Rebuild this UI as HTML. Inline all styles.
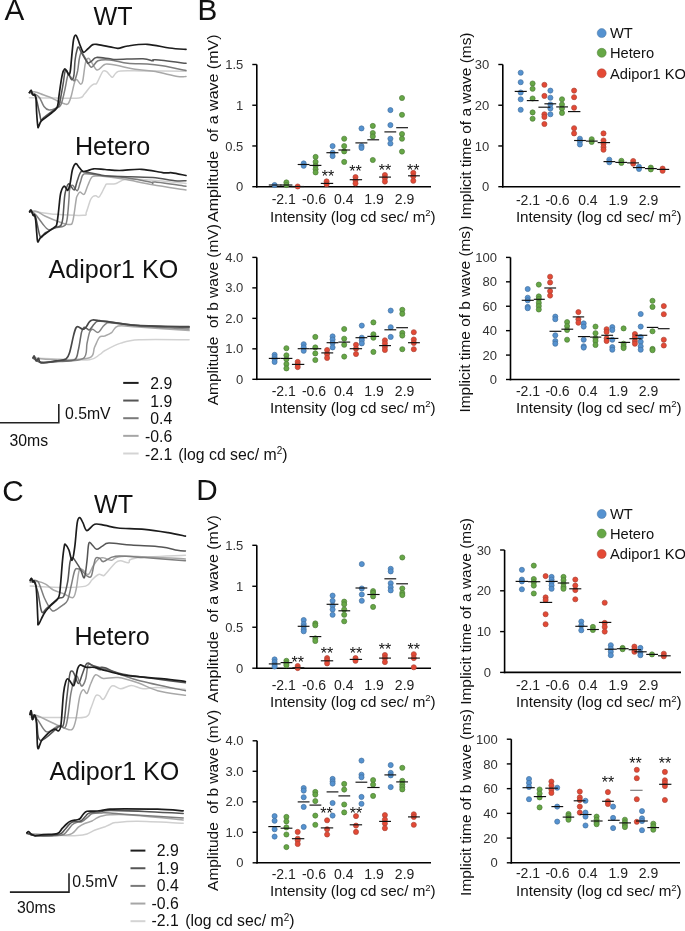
<!DOCTYPE html>
<html><head><meta charset="utf-8"><style>
html,body{margin:0;padding:0;background:#fff;}
body{width:685px;height:931px;overflow:hidden;position:relative;}
svg{position:absolute;left:0;top:0;will-change:transform;}
text{font-family:'Liberation Sans',sans-serif;}
</style></head><body>
<svg width="685" height="931" viewBox="0 0 685 931">
<rect width="685" height="931" fill="#fff"/>
<rect x="198.8" y="0" width="1.6" height="19.5" fill="#f1f1f1"/>
<line x1="256.8" y1="64.5" x2="256.8" y2="187.5" stroke="#000" stroke-width="1.6"/>
<line x1="256.0" y1="186.7" x2="431" y2="186.7" stroke="#000" stroke-width="1.6"/>
<line x1="252.3" y1="64.5" x2="256.8" y2="64.5" stroke="#000" stroke-width="1.4"/>
<text x="243.3" y="69.1" font-size="13" text-anchor="end" fill="#333" >1.5</text>
<line x1="252.3" y1="105.23333333333332" x2="256.8" y2="105.23333333333332" stroke="#000" stroke-width="1.4"/>
<text x="243.3" y="109.83" font-size="13" text-anchor="end" fill="#333" >1</text>
<line x1="252.3" y1="145.96666666666664" x2="256.8" y2="145.96666666666664" stroke="#000" stroke-width="1.4"/>
<text x="243.3" y="150.57" font-size="13" text-anchor="end" fill="#333" >0.5</text>
<line x1="252.3" y1="186.7" x2="256.8" y2="186.7" stroke="#000" stroke-width="1.4"/>
<text x="243.3" y="191.3" font-size="13" text-anchor="end" fill="#333" >0</text>
<text x="283.7" y="204.3" font-size="14" text-anchor="middle" fill="#222" >-2.1</text>
<text x="314.0" y="204.3" font-size="14" text-anchor="middle" fill="#222" >-0.6</text>
<text x="343.7" y="204.3" font-size="14" text-anchor="middle" fill="#222" >0.4</text>
<text x="374.1" y="204.3" font-size="14" text-anchor="middle" fill="#222" >1.9</text>
<text x="404.6" y="204.3" font-size="14" text-anchor="middle" fill="#222" >2.9</text>
<text x="270.0" y="221.9" font-size="15.2" text-anchor="start" fill="#111" >Intensity (log cd sec/ m<tspan font-size="9.5" dy="-5.5">2</tspan><tspan dy="5.5">)</tspan></text>
<text x="0" y="0" font-size="15.3" fill="#111" textLength="187.5" lengthAdjust="spacingAndGlyphs" transform="translate(218.3,222.0) rotate(-90)" xml:space="preserve">Amplitude  of a wave (mV)</text>
<g transform="translate(0.4,0.4)">
<circle cx="274.2" cy="184.6" r="2.55" fill="#5592d0" stroke="#46739f" stroke-width="0.7"/>
<circle cx="286.0" cy="182.0" r="2.55" fill="#66a746" stroke="#4f7d3a" stroke-width="0.7"/>
<circle cx="286.0" cy="184.6" r="2.55" fill="#66a746" stroke="#4f7d3a" stroke-width="0.7"/>
<circle cx="297.3" cy="186.1" r="2.55" fill="#e44935" stroke="#a9463a" stroke-width="0.7"/>
<circle cx="303.3" cy="163.0" r="2.55" fill="#5592d0" stroke="#46739f" stroke-width="0.7"/>
<circle cx="303.3" cy="165.4" r="2.55" fill="#5592d0" stroke="#46739f" stroke-width="0.7"/>
<circle cx="315.2" cy="156.5" r="2.55" fill="#66a746" stroke="#4f7d3a" stroke-width="0.7"/>
<circle cx="315.2" cy="161.5" r="2.55" fill="#66a746" stroke="#4f7d3a" stroke-width="0.7"/>
<circle cx="315.2" cy="165.4" r="2.55" fill="#66a746" stroke="#4f7d3a" stroke-width="0.7"/>
<circle cx="315.2" cy="168.8" r="2.55" fill="#66a746" stroke="#4f7d3a" stroke-width="0.7"/>
<circle cx="315.2" cy="172.0" r="2.55" fill="#66a746" stroke="#4f7d3a" stroke-width="0.7"/>
<circle cx="326.2" cy="181.0" r="2.55" fill="#e44935" stroke="#a9463a" stroke-width="0.7"/>
<circle cx="326.2" cy="183.8" r="2.55" fill="#e44935" stroke="#a9463a" stroke-width="0.7"/>
<circle cx="332.2" cy="145.7" r="2.55" fill="#5592d0" stroke="#46739f" stroke-width="0.7"/>
<circle cx="332.2" cy="152.3" r="2.55" fill="#5592d0" stroke="#46739f" stroke-width="0.7"/>
<circle cx="332.2" cy="155.7" r="2.55" fill="#5592d0" stroke="#46739f" stroke-width="0.7"/>
<circle cx="343.8" cy="138.3" r="2.55" fill="#66a746" stroke="#4f7d3a" stroke-width="0.7"/>
<circle cx="343.8" cy="145.7" r="2.55" fill="#66a746" stroke="#4f7d3a" stroke-width="0.7"/>
<circle cx="343.8" cy="151.0" r="2.55" fill="#66a746" stroke="#4f7d3a" stroke-width="0.7"/>
<circle cx="343.8" cy="161.5" r="2.55" fill="#66a746" stroke="#4f7d3a" stroke-width="0.7"/>
<circle cx="355.1" cy="176.7" r="2.55" fill="#e44935" stroke="#a9463a" stroke-width="0.7"/>
<circle cx="355.1" cy="179.8" r="2.55" fill="#e44935" stroke="#a9463a" stroke-width="0.7"/>
<circle cx="355.1" cy="183.0" r="2.55" fill="#e44935" stroke="#a9463a" stroke-width="0.7"/>
<circle cx="361.1" cy="128.0" r="2.55" fill="#5592d0" stroke="#46739f" stroke-width="0.7"/>
<circle cx="361.1" cy="145.7" r="2.55" fill="#5592d0" stroke="#46739f" stroke-width="0.7"/>
<circle cx="361.1" cy="147.5" r="2.55" fill="#5592d0" stroke="#46739f" stroke-width="0.7"/>
<circle cx="372.4" cy="125.5" r="2.55" fill="#66a746" stroke="#4f7d3a" stroke-width="0.7"/>
<circle cx="372.4" cy="132.6" r="2.55" fill="#66a746" stroke="#4f7d3a" stroke-width="0.7"/>
<circle cx="372.4" cy="136.0" r="2.55" fill="#66a746" stroke="#4f7d3a" stroke-width="0.7"/>
<circle cx="372.4" cy="159.6" r="2.55" fill="#66a746" stroke="#4f7d3a" stroke-width="0.7"/>
<circle cx="384.5" cy="174.6" r="2.55" fill="#e44935" stroke="#a9463a" stroke-width="0.7"/>
<circle cx="384.5" cy="177.7" r="2.55" fill="#e44935" stroke="#a9463a" stroke-width="0.7"/>
<circle cx="384.5" cy="181.2" r="2.55" fill="#e44935" stroke="#a9463a" stroke-width="0.7"/>
<circle cx="390.0" cy="109.7" r="2.55" fill="#5592d0" stroke="#46739f" stroke-width="0.7"/>
<circle cx="390.0" cy="124.7" r="2.55" fill="#5592d0" stroke="#46739f" stroke-width="0.7"/>
<circle cx="390.0" cy="138.3" r="2.55" fill="#5592d0" stroke="#46739f" stroke-width="0.7"/>
<circle cx="390.0" cy="143.1" r="2.55" fill="#5592d0" stroke="#46739f" stroke-width="0.7"/>
<circle cx="401.6" cy="97.6" r="2.55" fill="#66a746" stroke="#4f7d3a" stroke-width="0.7"/>
<circle cx="401.6" cy="114.4" r="2.55" fill="#66a746" stroke="#4f7d3a" stroke-width="0.7"/>
<circle cx="401.6" cy="133.6" r="2.55" fill="#66a746" stroke="#4f7d3a" stroke-width="0.7"/>
<circle cx="401.6" cy="138.3" r="2.55" fill="#66a746" stroke="#4f7d3a" stroke-width="0.7"/>
<circle cx="401.6" cy="151.2" r="2.55" fill="#66a746" stroke="#4f7d3a" stroke-width="0.7"/>
<circle cx="412.9" cy="172.5" r="2.55" fill="#e44935" stroke="#a9463a" stroke-width="0.7"/>
<circle cx="412.9" cy="175.9" r="2.55" fill="#e44935" stroke="#a9463a" stroke-width="0.7"/>
<circle cx="412.9" cy="180.4" r="2.55" fill="#e44935" stroke="#a9463a" stroke-width="0.7"/>
<line x1="268.4" y1="184.6" x2="281" y2="184.6" stroke="#111" stroke-width="1.15"/>
<line x1="280" y1="184.6" x2="292" y2="184.6" stroke="#111" stroke-width="1.15"/>
<line x1="291" y1="186.1" x2="303.9" y2="186.1" stroke="#111" stroke-width="1.15"/>
<line x1="297.3" y1="164.1" x2="309.1" y2="164.1" stroke="#111" stroke-width="1.15"/>
<line x1="309" y1="165.0" x2="321" y2="165.0" stroke="#111" stroke-width="1.15"/>
<line x1="320.4" y1="183.0" x2="332.8" y2="183.0" stroke="#111" stroke-width="1.15"/>
<line x1="326" y1="152.3" x2="338" y2="152.3" stroke="#111" stroke-width="1.15"/>
<line x1="338" y1="149.6" x2="349.8" y2="149.6" stroke="#111" stroke-width="1.15"/>
<line x1="349.3" y1="179.3" x2="361.7" y2="179.3" stroke="#111" stroke-width="1.15"/>
<line x1="355" y1="142.5" x2="367" y2="142.5" stroke="#111" stroke-width="1.15"/>
<line x1="366.9" y1="139.4" x2="378.7" y2="139.4" stroke="#111" stroke-width="1.15"/>
<line x1="378.7" y1="176.7" x2="390.6" y2="176.7" stroke="#111" stroke-width="1.15"/>
<line x1="384" y1="131.5" x2="395.8" y2="131.5" stroke="#111" stroke-width="1.15"/>
<line x1="395.8" y1="127.3" x2="407.6" y2="127.3" stroke="#111" stroke-width="1.15"/>
<line x1="407.6" y1="175.4" x2="419.5" y2="175.4" stroke="#111" stroke-width="1.15"/>
<text x="327.5" y="181.2" font-size="16" text-anchor="middle" fill="#111" >**</text>
<text x="355.1" y="177.0" font-size="16" text-anchor="middle" fill="#111" >**</text>
<text x="384.5" y="175.3" font-size="16" text-anchor="middle" fill="#111" >**</text>
<text x="412.9" y="175.3" font-size="16" text-anchor="middle" fill="#111" >**</text>
</g>
<line x1="502.8" y1="64.5" x2="502.8" y2="187.5" stroke="#000" stroke-width="1.6"/>
<line x1="502.0" y1="186.7" x2="680.3" y2="186.7" stroke="#000" stroke-width="1.6"/>
<line x1="498.3" y1="64.5" x2="502.8" y2="64.5" stroke="#000" stroke-width="1.4"/>
<text x="489.3" y="69.1" font-size="13" text-anchor="end" fill="#333" >30</text>
<line x1="498.3" y1="105.23333333333332" x2="502.8" y2="105.23333333333332" stroke="#000" stroke-width="1.4"/>
<text x="489.3" y="109.83" font-size="13" text-anchor="end" fill="#333" >20</text>
<line x1="498.3" y1="145.96666666666664" x2="502.8" y2="145.96666666666664" stroke="#000" stroke-width="1.4"/>
<text x="489.3" y="150.57" font-size="13" text-anchor="end" fill="#333" >10</text>
<line x1="498.3" y1="186.7" x2="502.8" y2="186.7" stroke="#000" stroke-width="1.4"/>
<text x="489.3" y="191.3" font-size="13" text-anchor="end" fill="#333" >0</text>
<text x="528.0" y="204.5" font-size="14" text-anchor="middle" fill="#222" >-2.1</text>
<text x="557.5" y="204.5" font-size="14" text-anchor="middle" fill="#222" >-0.6</text>
<text x="587.9" y="204.5" font-size="14" text-anchor="middle" fill="#222" >0.4</text>
<text x="618.3" y="204.5" font-size="14" text-anchor="middle" fill="#222" >1.9</text>
<text x="648.5" y="204.5" font-size="14" text-anchor="middle" fill="#222" >2.9</text>
<text x="515.9" y="221.8" font-size="15.2" text-anchor="start" fill="#111" >Intensity (log cd sec/ m<tspan font-size="9.5" dy="-5.5">2</tspan><tspan dy="5.5">)</tspan></text>
<text x="0" y="0" font-size="15.3" fill="#111" textLength="187" lengthAdjust="spacingAndGlyphs" transform="translate(470.5,219.5) rotate(-90)" xml:space="preserve">Implicit time of a wave (ms)</text>
<g transform="translate(0.4,0.4)">
<circle cx="520.3" cy="72.3" r="2.55" fill="#5592d0" stroke="#46739f" stroke-width="0.7"/>
<circle cx="520.3" cy="81.8" r="2.55" fill="#5592d0" stroke="#46739f" stroke-width="0.7"/>
<circle cx="520.3" cy="92.1" r="2.55" fill="#5592d0" stroke="#46739f" stroke-width="0.7"/>
<circle cx="520.3" cy="98.9" r="2.55" fill="#5592d0" stroke="#46739f" stroke-width="0.7"/>
<circle cx="520.3" cy="109.4" r="2.55" fill="#5592d0" stroke="#46739f" stroke-width="0.7"/>
<circle cx="532.2" cy="83.1" r="2.55" fill="#66a746" stroke="#4f7d3a" stroke-width="0.7"/>
<circle cx="532.2" cy="88.4" r="2.55" fill="#66a746" stroke="#4f7d3a" stroke-width="0.7"/>
<circle cx="532.2" cy="98.1" r="2.55" fill="#66a746" stroke="#4f7d3a" stroke-width="0.7"/>
<circle cx="532.2" cy="112.0" r="2.55" fill="#66a746" stroke="#4f7d3a" stroke-width="0.7"/>
<circle cx="532.2" cy="118.3" r="2.55" fill="#66a746" stroke="#4f7d3a" stroke-width="0.7"/>
<circle cx="544.0" cy="84.4" r="2.55" fill="#e44935" stroke="#a9463a" stroke-width="0.7"/>
<circle cx="544.0" cy="95.5" r="2.55" fill="#e44935" stroke="#a9463a" stroke-width="0.7"/>
<circle cx="544.0" cy="113.9" r="2.55" fill="#e44935" stroke="#a9463a" stroke-width="0.7"/>
<circle cx="544.0" cy="116.5" r="2.55" fill="#e44935" stroke="#a9463a" stroke-width="0.7"/>
<circle cx="544.0" cy="123.6" r="2.55" fill="#e44935" stroke="#a9463a" stroke-width="0.7"/>
<circle cx="550.0" cy="90.2" r="2.55" fill="#5592d0" stroke="#46739f" stroke-width="0.7"/>
<circle cx="550.0" cy="97.3" r="2.55" fill="#5592d0" stroke="#46739f" stroke-width="0.7"/>
<circle cx="550.0" cy="104.1" r="2.55" fill="#5592d0" stroke="#46739f" stroke-width="0.7"/>
<circle cx="550.0" cy="108.1" r="2.55" fill="#5592d0" stroke="#46739f" stroke-width="0.7"/>
<circle cx="550.0" cy="113.9" r="2.55" fill="#5592d0" stroke="#46739f" stroke-width="0.7"/>
<circle cx="561.6" cy="98.9" r="2.55" fill="#66a746" stroke="#4f7d3a" stroke-width="0.7"/>
<circle cx="561.6" cy="104.1" r="2.55" fill="#66a746" stroke="#4f7d3a" stroke-width="0.7"/>
<circle cx="561.6" cy="108.1" r="2.55" fill="#66a746" stroke="#4f7d3a" stroke-width="0.7"/>
<circle cx="561.6" cy="112.5" r="2.55" fill="#66a746" stroke="#4f7d3a" stroke-width="0.7"/>
<circle cx="573.7" cy="90.2" r="2.55" fill="#e44935" stroke="#a9463a" stroke-width="0.7"/>
<circle cx="573.7" cy="96.8" r="2.55" fill="#e44935" stroke="#a9463a" stroke-width="0.7"/>
<circle cx="573.7" cy="107.3" r="2.55" fill="#e44935" stroke="#a9463a" stroke-width="0.7"/>
<circle cx="573.7" cy="127.8" r="2.55" fill="#e44935" stroke="#a9463a" stroke-width="0.7"/>
<circle cx="573.7" cy="133.0" r="2.55" fill="#e44935" stroke="#a9463a" stroke-width="0.7"/>
<circle cx="579.5" cy="138.3" r="2.55" fill="#5592d0" stroke="#46739f" stroke-width="0.7"/>
<circle cx="579.5" cy="140.9" r="2.55" fill="#5592d0" stroke="#46739f" stroke-width="0.7"/>
<circle cx="579.5" cy="144.1" r="2.55" fill="#5592d0" stroke="#46739f" stroke-width="0.7"/>
<circle cx="591.3" cy="138.8" r="2.55" fill="#66a746" stroke="#4f7d3a" stroke-width="0.7"/>
<circle cx="591.3" cy="141.5" r="2.55" fill="#66a746" stroke="#4f7d3a" stroke-width="0.7"/>
<circle cx="603.1" cy="133.0" r="2.55" fill="#e44935" stroke="#a9463a" stroke-width="0.7"/>
<circle cx="603.1" cy="140.1" r="2.55" fill="#e44935" stroke="#a9463a" stroke-width="0.7"/>
<circle cx="603.1" cy="143.6" r="2.55" fill="#e44935" stroke="#a9463a" stroke-width="0.7"/>
<circle cx="603.1" cy="146.7" r="2.55" fill="#e44935" stroke="#a9463a" stroke-width="0.7"/>
<circle cx="603.1" cy="149.3" r="2.55" fill="#e44935" stroke="#a9463a" stroke-width="0.7"/>
<circle cx="608.9" cy="159.3" r="2.55" fill="#5592d0" stroke="#46739f" stroke-width="0.7"/>
<circle cx="608.9" cy="161.9" r="2.55" fill="#5592d0" stroke="#46739f" stroke-width="0.7"/>
<circle cx="621.0" cy="160.4" r="2.55" fill="#66a746" stroke="#4f7d3a" stroke-width="0.7"/>
<circle cx="621.0" cy="162.5" r="2.55" fill="#66a746" stroke="#4f7d3a" stroke-width="0.7"/>
<circle cx="632.8" cy="160.6" r="2.55" fill="#e44935" stroke="#a9463a" stroke-width="0.7"/>
<circle cx="632.8" cy="163.3" r="2.55" fill="#e44935" stroke="#a9463a" stroke-width="0.7"/>
<circle cx="638.6" cy="166.4" r="2.55" fill="#5592d0" stroke="#46739f" stroke-width="0.7"/>
<circle cx="638.6" cy="168.5" r="2.55" fill="#5592d0" stroke="#46739f" stroke-width="0.7"/>
<circle cx="650.4" cy="167.2" r="2.55" fill="#66a746" stroke="#4f7d3a" stroke-width="0.7"/>
<circle cx="650.4" cy="169.0" r="2.55" fill="#66a746" stroke="#4f7d3a" stroke-width="0.7"/>
<circle cx="662.2" cy="168.2" r="2.55" fill="#e44935" stroke="#a9463a" stroke-width="0.7"/>
<circle cx="662.2" cy="170.4" r="2.55" fill="#e44935" stroke="#a9463a" stroke-width="0.7"/>
<line x1="514.3" y1="91.0" x2="526.4" y2="91.0" stroke="#111" stroke-width="1.15"/>
<line x1="526.4" y1="100.2" x2="538.2" y2="100.2" stroke="#111" stroke-width="1.15"/>
<line x1="538" y1="106.8" x2="550" y2="106.8" stroke="#111" stroke-width="1.15"/>
<line x1="544" y1="103.4" x2="555.8" y2="103.4" stroke="#111" stroke-width="1.15"/>
<line x1="555.8" y1="106.5" x2="567.6" y2="106.5" stroke="#111" stroke-width="1.15"/>
<line x1="567.6" y1="111.2" x2="580" y2="111.2" stroke="#111" stroke-width="1.15"/>
<line x1="573.7" y1="140.1" x2="585.5" y2="140.1" stroke="#111" stroke-width="1.15"/>
<line x1="585.5" y1="140.7" x2="597.3" y2="140.7" stroke="#111" stroke-width="1.15"/>
<line x1="597.3" y1="142.2" x2="609.7" y2="142.2" stroke="#111" stroke-width="1.15"/>
<line x1="603.1" y1="161.2" x2="614.9" y2="161.2" stroke="#111" stroke-width="1.15"/>
<line x1="614.9" y1="162.0" x2="626.7" y2="162.0" stroke="#111" stroke-width="1.15"/>
<line x1="626.7" y1="162.5" x2="638.6" y2="162.5" stroke="#111" stroke-width="1.15"/>
<line x1="632.5" y1="167.2" x2="644.6" y2="167.2" stroke="#111" stroke-width="1.15"/>
<line x1="644.6" y1="168.2" x2="656.4" y2="168.2" stroke="#111" stroke-width="1.15"/>
<line x1="656.4" y1="169.0" x2="668.8" y2="169.0" stroke="#111" stroke-width="1.15"/>
</g>
<circle cx="601.7" cy="33.1" r="4.5" fill="#5592d0" stroke="#46739f" stroke-width="0.5"/>
<text x="610.0" y="38.4" font-size="14.7" text-anchor="start" fill="#111" >WT</text>
<circle cx="601.7" cy="52.8" r="4.5" fill="#66a746" stroke="#4f7d3a" stroke-width="0.5"/>
<text x="610.0" y="58.099999999999994" font-size="14.7" text-anchor="start" fill="#111" >Hetero</text>
<circle cx="601.7" cy="73.3" r="4.5" fill="#e44935" stroke="#a9463a" stroke-width="0.5"/>
<text x="610.0" y="78.6" font-size="14.7" text-anchor="start" fill="#111" >Adipor1 KO</text>
<line x1="256.8" y1="257.4" x2="256.8" y2="380.1" stroke="#000" stroke-width="1.6"/>
<line x1="256.0" y1="379.3" x2="431" y2="379.3" stroke="#000" stroke-width="1.6"/>
<line x1="252.3" y1="257.4" x2="256.8" y2="257.4" stroke="#000" stroke-width="1.4"/>
<text x="243.3" y="262.0" font-size="13" text-anchor="end" fill="#333" >4.0</text>
<line x1="252.3" y1="287.875" x2="256.8" y2="287.875" stroke="#000" stroke-width="1.4"/>
<text x="243.3" y="292.48" font-size="13" text-anchor="end" fill="#333" >3.0</text>
<line x1="252.3" y1="318.35" x2="256.8" y2="318.35" stroke="#000" stroke-width="1.4"/>
<text x="243.3" y="322.95" font-size="13" text-anchor="end" fill="#333" >2.0</text>
<line x1="252.3" y1="348.825" x2="256.8" y2="348.825" stroke="#000" stroke-width="1.4"/>
<text x="243.3" y="353.43" font-size="13" text-anchor="end" fill="#333" >1.0</text>
<line x1="252.3" y1="379.3" x2="256.8" y2="379.3" stroke="#000" stroke-width="1.4"/>
<text x="243.3" y="383.9" font-size="13" text-anchor="end" fill="#333" >0</text>
<text x="283.7" y="396.1" font-size="14" text-anchor="middle" fill="#222" >-2.1</text>
<text x="314.0" y="396.1" font-size="14" text-anchor="middle" fill="#222" >-0.6</text>
<text x="343.7" y="396.1" font-size="14" text-anchor="middle" fill="#222" >0.4</text>
<text x="374.1" y="396.1" font-size="14" text-anchor="middle" fill="#222" >1.9</text>
<text x="404.6" y="396.1" font-size="14" text-anchor="middle" fill="#222" >2.9</text>
<text x="270.0" y="412.8" font-size="15.2" text-anchor="start" fill="#111" >Intensity (log cd sec/ m<tspan font-size="9.5" dy="-5.5">2</tspan><tspan dy="5.5">)</tspan></text>
<text x="0" y="0" font-size="15.3" fill="#111" textLength="181" lengthAdjust="spacingAndGlyphs" transform="translate(218.3,405.2) rotate(-90)" xml:space="preserve">Amplitude  of b wave (mV)</text>
<g transform="translate(0.4,0.4)">
<circle cx="274.2" cy="354.4" r="2.55" fill="#5592d0" stroke="#46739f" stroke-width="0.7"/>
<circle cx="274.2" cy="356.7" r="2.55" fill="#5592d0" stroke="#46739f" stroke-width="0.7"/>
<circle cx="274.2" cy="358.8" r="2.55" fill="#5592d0" stroke="#46739f" stroke-width="0.7"/>
<circle cx="274.2" cy="361.5" r="2.55" fill="#5592d0" stroke="#46739f" stroke-width="0.7"/>
<circle cx="286.0" cy="347.8" r="2.55" fill="#66a746" stroke="#4f7d3a" stroke-width="0.7"/>
<circle cx="286.0" cy="354.9" r="2.55" fill="#66a746" stroke="#4f7d3a" stroke-width="0.7"/>
<circle cx="286.0" cy="358.8" r="2.55" fill="#66a746" stroke="#4f7d3a" stroke-width="0.7"/>
<circle cx="286.0" cy="363.6" r="2.55" fill="#66a746" stroke="#4f7d3a" stroke-width="0.7"/>
<circle cx="286.0" cy="368.0" r="2.55" fill="#66a746" stroke="#4f7d3a" stroke-width="0.7"/>
<circle cx="297.3" cy="361.5" r="2.55" fill="#e44935" stroke="#a9463a" stroke-width="0.7"/>
<circle cx="297.3" cy="364.0" r="2.55" fill="#e44935" stroke="#a9463a" stroke-width="0.7"/>
<circle cx="297.3" cy="366.7" r="2.55" fill="#e44935" stroke="#a9463a" stroke-width="0.7"/>
<circle cx="303.3" cy="343.8" r="2.55" fill="#5592d0" stroke="#46739f" stroke-width="0.7"/>
<circle cx="303.3" cy="347.0" r="2.55" fill="#5592d0" stroke="#46739f" stroke-width="0.7"/>
<circle cx="303.3" cy="350.4" r="2.55" fill="#5592d0" stroke="#46739f" stroke-width="0.7"/>
<circle cx="314.9" cy="336.5" r="2.55" fill="#66a746" stroke="#4f7d3a" stroke-width="0.7"/>
<circle cx="314.9" cy="347.0" r="2.55" fill="#66a746" stroke="#4f7d3a" stroke-width="0.7"/>
<circle cx="314.9" cy="353.0" r="2.55" fill="#66a746" stroke="#4f7d3a" stroke-width="0.7"/>
<circle cx="314.9" cy="359.6" r="2.55" fill="#66a746" stroke="#4f7d3a" stroke-width="0.7"/>
<circle cx="326.7" cy="349.6" r="2.55" fill="#e44935" stroke="#a9463a" stroke-width="0.7"/>
<circle cx="326.7" cy="353.6" r="2.55" fill="#e44935" stroke="#a9463a" stroke-width="0.7"/>
<circle cx="326.7" cy="357.5" r="2.55" fill="#e44935" stroke="#a9463a" stroke-width="0.7"/>
<circle cx="332.2" cy="336.0" r="2.55" fill="#5592d0" stroke="#46739f" stroke-width="0.7"/>
<circle cx="332.2" cy="339.1" r="2.55" fill="#5592d0" stroke="#46739f" stroke-width="0.7"/>
<circle cx="332.2" cy="342.5" r="2.55" fill="#5592d0" stroke="#46739f" stroke-width="0.7"/>
<circle cx="332.2" cy="347.0" r="2.55" fill="#5592d0" stroke="#46739f" stroke-width="0.7"/>
<circle cx="343.8" cy="328.6" r="2.55" fill="#66a746" stroke="#4f7d3a" stroke-width="0.7"/>
<circle cx="343.8" cy="338.3" r="2.55" fill="#66a746" stroke="#4f7d3a" stroke-width="0.7"/>
<circle cx="343.8" cy="344.4" r="2.55" fill="#66a746" stroke="#4f7d3a" stroke-width="0.7"/>
<circle cx="343.8" cy="356.2" r="2.55" fill="#66a746" stroke="#4f7d3a" stroke-width="0.7"/>
<circle cx="355.6" cy="344.4" r="2.55" fill="#e44935" stroke="#a9463a" stroke-width="0.7"/>
<circle cx="355.6" cy="348.3" r="2.55" fill="#e44935" stroke="#a9463a" stroke-width="0.7"/>
<circle cx="355.6" cy="353.6" r="2.55" fill="#e44935" stroke="#a9463a" stroke-width="0.7"/>
<circle cx="361.4" cy="325.2" r="2.55" fill="#5592d0" stroke="#46739f" stroke-width="0.7"/>
<circle cx="361.4" cy="337.3" r="2.55" fill="#5592d0" stroke="#46739f" stroke-width="0.7"/>
<circle cx="361.4" cy="339.9" r="2.55" fill="#5592d0" stroke="#46739f" stroke-width="0.7"/>
<circle cx="361.4" cy="343.0" r="2.55" fill="#5592d0" stroke="#46739f" stroke-width="0.7"/>
<circle cx="373.0" cy="322.0" r="2.55" fill="#66a746" stroke="#4f7d3a" stroke-width="0.7"/>
<circle cx="373.0" cy="333.9" r="2.55" fill="#66a746" stroke="#4f7d3a" stroke-width="0.7"/>
<circle cx="373.0" cy="337.3" r="2.55" fill="#66a746" stroke="#4f7d3a" stroke-width="0.7"/>
<circle cx="373.0" cy="351.5" r="2.55" fill="#66a746" stroke="#4f7d3a" stroke-width="0.7"/>
<circle cx="384.5" cy="339.9" r="2.55" fill="#e44935" stroke="#a9463a" stroke-width="0.7"/>
<circle cx="384.5" cy="343.0" r="2.55" fill="#e44935" stroke="#a9463a" stroke-width="0.7"/>
<circle cx="384.5" cy="346.5" r="2.55" fill="#e44935" stroke="#a9463a" stroke-width="0.7"/>
<circle cx="384.5" cy="349.6" r="2.55" fill="#e44935" stroke="#a9463a" stroke-width="0.7"/>
<circle cx="390.3" cy="310.2" r="2.55" fill="#5592d0" stroke="#46739f" stroke-width="0.7"/>
<circle cx="390.3" cy="326.8" r="2.55" fill="#5592d0" stroke="#46739f" stroke-width="0.7"/>
<circle cx="390.3" cy="336.5" r="2.55" fill="#5592d0" stroke="#46739f" stroke-width="0.7"/>
<circle cx="401.9" cy="309.4" r="2.55" fill="#66a746" stroke="#4f7d3a" stroke-width="0.7"/>
<circle cx="401.9" cy="313.4" r="2.55" fill="#66a746" stroke="#4f7d3a" stroke-width="0.7"/>
<circle cx="401.9" cy="332.5" r="2.55" fill="#66a746" stroke="#4f7d3a" stroke-width="0.7"/>
<circle cx="401.9" cy="335.2" r="2.55" fill="#66a746" stroke="#4f7d3a" stroke-width="0.7"/>
<circle cx="401.9" cy="348.8" r="2.55" fill="#66a746" stroke="#4f7d3a" stroke-width="0.7"/>
<circle cx="413.4" cy="331.8" r="2.55" fill="#e44935" stroke="#a9463a" stroke-width="0.7"/>
<circle cx="413.4" cy="339.1" r="2.55" fill="#e44935" stroke="#a9463a" stroke-width="0.7"/>
<circle cx="413.4" cy="342.5" r="2.55" fill="#e44935" stroke="#a9463a" stroke-width="0.7"/>
<circle cx="413.4" cy="348.8" r="2.55" fill="#e44935" stroke="#a9463a" stroke-width="0.7"/>
<line x1="268.4" y1="358.0" x2="280.2" y2="358.0" stroke="#111" stroke-width="1.15"/>
<line x1="280.2" y1="358.0" x2="292" y2="358.0" stroke="#111" stroke-width="1.15"/>
<line x1="291.5" y1="364.0" x2="303.9" y2="364.0" stroke="#111" stroke-width="1.15"/>
<line x1="297.3" y1="348.3" x2="309.1" y2="348.3" stroke="#111" stroke-width="1.15"/>
<line x1="309.1" y1="348.3" x2="320.9" y2="348.3" stroke="#111" stroke-width="1.15"/>
<line x1="320.9" y1="352.5" x2="332.8" y2="352.5" stroke="#111" stroke-width="1.15"/>
<line x1="326.2" y1="342.3" x2="338" y2="342.3" stroke="#111" stroke-width="1.15"/>
<line x1="338" y1="341.7" x2="349.8" y2="341.7" stroke="#111" stroke-width="1.15"/>
<line x1="349.3" y1="348.3" x2="361.7" y2="348.3" stroke="#111" stroke-width="1.15"/>
<line x1="355.1" y1="337.3" x2="366.9" y2="337.3" stroke="#111" stroke-width="1.15"/>
<line x1="366.9" y1="336.0" x2="378.7" y2="336.0" stroke="#111" stroke-width="1.15"/>
<line x1="378.7" y1="345.2" x2="390.6" y2="345.2" stroke="#111" stroke-width="1.15"/>
<line x1="384" y1="329.4" x2="395.8" y2="329.4" stroke="#111" stroke-width="1.15"/>
<line x1="395.8" y1="327.3" x2="407.6" y2="327.3" stroke="#111" stroke-width="1.15"/>
<line x1="407.6" y1="342.3" x2="419.5" y2="342.3" stroke="#111" stroke-width="1.15"/>
</g>
<line x1="510.5" y1="257.4" x2="510.5" y2="380.3" stroke="#000" stroke-width="1.6"/>
<line x1="509.7" y1="379.5" x2="679.7" y2="379.5" stroke="#000" stroke-width="1.6"/>
<line x1="506.0" y1="257.4" x2="510.5" y2="257.4" stroke="#000" stroke-width="1.4"/>
<text x="497.0" y="262.0" font-size="13" text-anchor="end" fill="#333" >100</text>
<line x1="506.0" y1="281.82" x2="510.5" y2="281.82" stroke="#000" stroke-width="1.4"/>
<text x="497.0" y="286.42" font-size="13" text-anchor="end" fill="#333" >80</text>
<line x1="506.0" y1="306.24" x2="510.5" y2="306.24" stroke="#000" stroke-width="1.4"/>
<text x="497.0" y="310.84" font-size="13" text-anchor="end" fill="#333" >60</text>
<line x1="506.0" y1="330.65999999999997" x2="510.5" y2="330.65999999999997" stroke="#000" stroke-width="1.4"/>
<text x="497.0" y="335.26" font-size="13" text-anchor="end" fill="#333" >40</text>
<line x1="506.0" y1="355.08" x2="510.5" y2="355.08" stroke="#000" stroke-width="1.4"/>
<text x="497.0" y="359.68" font-size="13" text-anchor="end" fill="#333" >20</text>
<line x1="506.0" y1="379.5" x2="510.5" y2="379.5" stroke="#000" stroke-width="1.4"/>
<text x="497.0" y="384.1" font-size="13" text-anchor="end" fill="#333" >0</text>
<text x="528.0" y="395.8" font-size="14" text-anchor="middle" fill="#222" >-2.1</text>
<text x="557.5" y="395.8" font-size="14" text-anchor="middle" fill="#222" >-0.6</text>
<text x="587.9" y="395.8" font-size="14" text-anchor="middle" fill="#222" >0.4</text>
<text x="618.3" y="395.8" font-size="14" text-anchor="middle" fill="#222" >1.9</text>
<text x="648.5" y="395.8" font-size="14" text-anchor="middle" fill="#222" >2.9</text>
<text x="516.0" y="412.8" font-size="15.2" text-anchor="start" fill="#111" >Intensity (log cd sec/ m<tspan font-size="9.5" dy="-5.5">2</tspan><tspan dy="5.5">)</tspan></text>
<text x="0" y="0" font-size="15.3" fill="#111" textLength="186.7" lengthAdjust="spacingAndGlyphs" transform="translate(470.0,412.5) rotate(-90)" xml:space="preserve">Implicit time of b wave (ms)</text>
<g transform="translate(0.4,0.4)">
<circle cx="527.3" cy="288.6" r="2.55" fill="#5592d0" stroke="#46739f" stroke-width="0.7"/>
<circle cx="527.3" cy="297.3" r="2.55" fill="#5592d0" stroke="#46739f" stroke-width="0.7"/>
<circle cx="527.3" cy="299.9" r="2.55" fill="#5592d0" stroke="#46739f" stroke-width="0.7"/>
<circle cx="527.3" cy="306.5" r="2.55" fill="#5592d0" stroke="#46739f" stroke-width="0.7"/>
<circle cx="527.3" cy="307.8" r="2.55" fill="#5592d0" stroke="#46739f" stroke-width="0.7"/>
<circle cx="538.4" cy="284.2" r="2.55" fill="#66a746" stroke="#4f7d3a" stroke-width="0.7"/>
<circle cx="538.4" cy="296.0" r="2.55" fill="#66a746" stroke="#4f7d3a" stroke-width="0.7"/>
<circle cx="538.4" cy="298.6" r="2.55" fill="#66a746" stroke="#4f7d3a" stroke-width="0.7"/>
<circle cx="538.4" cy="302.5" r="2.55" fill="#66a746" stroke="#4f7d3a" stroke-width="0.7"/>
<circle cx="538.4" cy="305.7" r="2.55" fill="#66a746" stroke="#4f7d3a" stroke-width="0.7"/>
<circle cx="538.4" cy="309.1" r="2.55" fill="#66a746" stroke="#4f7d3a" stroke-width="0.7"/>
<circle cx="549.7" cy="276.3" r="2.55" fill="#e44935" stroke="#a9463a" stroke-width="0.7"/>
<circle cx="549.7" cy="282.1" r="2.55" fill="#e44935" stroke="#a9463a" stroke-width="0.7"/>
<circle cx="549.7" cy="290.7" r="2.55" fill="#e44935" stroke="#a9463a" stroke-width="0.7"/>
<circle cx="549.7" cy="295.2" r="2.55" fill="#e44935" stroke="#a9463a" stroke-width="0.7"/>
<circle cx="554.9" cy="316.2" r="2.55" fill="#5592d0" stroke="#46739f" stroke-width="0.7"/>
<circle cx="554.9" cy="318.8" r="2.55" fill="#5592d0" stroke="#46739f" stroke-width="0.7"/>
<circle cx="554.9" cy="334.9" r="2.55" fill="#5592d0" stroke="#46739f" stroke-width="0.7"/>
<circle cx="554.9" cy="340.6" r="2.55" fill="#5592d0" stroke="#46739f" stroke-width="0.7"/>
<circle cx="554.9" cy="343.3" r="2.55" fill="#5592d0" stroke="#46739f" stroke-width="0.7"/>
<circle cx="566.7" cy="321.7" r="2.55" fill="#66a746" stroke="#4f7d3a" stroke-width="0.7"/>
<circle cx="566.7" cy="325.7" r="2.55" fill="#66a746" stroke="#4f7d3a" stroke-width="0.7"/>
<circle cx="566.7" cy="329.6" r="2.55" fill="#66a746" stroke="#4f7d3a" stroke-width="0.7"/>
<circle cx="566.7" cy="339.3" r="2.55" fill="#66a746" stroke="#4f7d3a" stroke-width="0.7"/>
<circle cx="578.0" cy="311.7" r="2.55" fill="#e44935" stroke="#a9463a" stroke-width="0.7"/>
<circle cx="578.0" cy="318.8" r="2.55" fill="#e44935" stroke="#a9463a" stroke-width="0.7"/>
<circle cx="578.0" cy="322.3" r="2.55" fill="#e44935" stroke="#a9463a" stroke-width="0.7"/>
<circle cx="583.3" cy="323.0" r="2.55" fill="#5592d0" stroke="#46739f" stroke-width="0.7"/>
<circle cx="583.3" cy="326.2" r="2.55" fill="#5592d0" stroke="#46739f" stroke-width="0.7"/>
<circle cx="583.3" cy="339.3" r="2.55" fill="#5592d0" stroke="#46739f" stroke-width="0.7"/>
<circle cx="583.3" cy="345.9" r="2.55" fill="#5592d0" stroke="#46739f" stroke-width="0.7"/>
<circle cx="583.3" cy="347.2" r="2.55" fill="#5592d0" stroke="#46739f" stroke-width="0.7"/>
<circle cx="595.1" cy="326.2" r="2.55" fill="#66a746" stroke="#4f7d3a" stroke-width="0.7"/>
<circle cx="595.1" cy="332.8" r="2.55" fill="#66a746" stroke="#4f7d3a" stroke-width="0.7"/>
<circle cx="595.1" cy="338.0" r="2.55" fill="#66a746" stroke="#4f7d3a" stroke-width="0.7"/>
<circle cx="595.1" cy="340.6" r="2.55" fill="#66a746" stroke="#4f7d3a" stroke-width="0.7"/>
<circle cx="595.1" cy="344.6" r="2.55" fill="#66a746" stroke="#4f7d3a" stroke-width="0.7"/>
<circle cx="606.2" cy="328.8" r="2.55" fill="#e44935" stroke="#a9463a" stroke-width="0.7"/>
<circle cx="606.2" cy="331.5" r="2.55" fill="#e44935" stroke="#a9463a" stroke-width="0.7"/>
<circle cx="606.2" cy="338.0" r="2.55" fill="#e44935" stroke="#a9463a" stroke-width="0.7"/>
<circle cx="606.2" cy="340.6" r="2.55" fill="#e44935" stroke="#a9463a" stroke-width="0.7"/>
<circle cx="611.9" cy="326.7" r="2.55" fill="#5592d0" stroke="#46739f" stroke-width="0.7"/>
<circle cx="611.9" cy="329.6" r="2.55" fill="#5592d0" stroke="#46739f" stroke-width="0.7"/>
<circle cx="611.9" cy="339.3" r="2.55" fill="#5592d0" stroke="#46739f" stroke-width="0.7"/>
<circle cx="611.9" cy="346.7" r="2.55" fill="#5592d0" stroke="#46739f" stroke-width="0.7"/>
<circle cx="611.9" cy="349.3" r="2.55" fill="#5592d0" stroke="#46739f" stroke-width="0.7"/>
<circle cx="623.2" cy="328.0" r="2.55" fill="#66a746" stroke="#4f7d3a" stroke-width="0.7"/>
<circle cx="623.2" cy="343.3" r="2.55" fill="#66a746" stroke="#4f7d3a" stroke-width="0.7"/>
<circle cx="623.2" cy="345.9" r="2.55" fill="#66a746" stroke="#4f7d3a" stroke-width="0.7"/>
<circle cx="623.2" cy="347.7" r="2.55" fill="#66a746" stroke="#4f7d3a" stroke-width="0.7"/>
<circle cx="634.5" cy="333.6" r="2.55" fill="#e44935" stroke="#a9463a" stroke-width="0.7"/>
<circle cx="634.5" cy="336.7" r="2.55" fill="#e44935" stroke="#a9463a" stroke-width="0.7"/>
<circle cx="634.5" cy="340.6" r="2.55" fill="#e44935" stroke="#a9463a" stroke-width="0.7"/>
<circle cx="634.5" cy="343.3" r="2.55" fill="#e44935" stroke="#a9463a" stroke-width="0.7"/>
<circle cx="640.3" cy="313.6" r="2.55" fill="#5592d0" stroke="#46739f" stroke-width="0.7"/>
<circle cx="640.3" cy="326.2" r="2.55" fill="#5592d0" stroke="#46739f" stroke-width="0.7"/>
<circle cx="640.3" cy="336.7" r="2.55" fill="#5592d0" stroke="#46739f" stroke-width="0.7"/>
<circle cx="640.3" cy="341.4" r="2.55" fill="#5592d0" stroke="#46739f" stroke-width="0.7"/>
<circle cx="640.3" cy="345.9" r="2.55" fill="#5592d0" stroke="#46739f" stroke-width="0.7"/>
<circle cx="640.3" cy="349.3" r="2.55" fill="#5592d0" stroke="#46739f" stroke-width="0.7"/>
<circle cx="652.1" cy="300.4" r="2.55" fill="#66a746" stroke="#4f7d3a" stroke-width="0.7"/>
<circle cx="652.1" cy="306.5" r="2.55" fill="#66a746" stroke="#4f7d3a" stroke-width="0.7"/>
<circle cx="652.1" cy="330.9" r="2.55" fill="#66a746" stroke="#4f7d3a" stroke-width="0.7"/>
<circle cx="652.1" cy="348.5" r="2.55" fill="#66a746" stroke="#4f7d3a" stroke-width="0.7"/>
<circle cx="652.1" cy="349.8" r="2.55" fill="#66a746" stroke="#4f7d3a" stroke-width="0.7"/>
<circle cx="663.4" cy="305.7" r="2.55" fill="#e44935" stroke="#a9463a" stroke-width="0.7"/>
<circle cx="663.4" cy="313.8" r="2.55" fill="#e44935" stroke="#a9463a" stroke-width="0.7"/>
<circle cx="663.4" cy="339.3" r="2.55" fill="#e44935" stroke="#a9463a" stroke-width="0.7"/>
<circle cx="663.4" cy="345.1" r="2.55" fill="#e44935" stroke="#a9463a" stroke-width="0.7"/>
<line x1="521.3" y1="299.9" x2="533.4" y2="299.9" stroke="#111" stroke-width="1.15"/>
<line x1="533.4" y1="298.9" x2="544.4" y2="298.9" stroke="#111" stroke-width="1.15"/>
<line x1="543.9" y1="287.6" x2="555.7" y2="287.6" stroke="#111" stroke-width="1.15"/>
<line x1="549.1" y1="330.9" x2="561" y2="330.9" stroke="#111" stroke-width="1.15"/>
<line x1="561" y1="328.8" x2="572.8" y2="328.8" stroke="#111" stroke-width="1.15"/>
<line x1="572.3" y1="316.5" x2="583.8" y2="316.5" stroke="#111" stroke-width="1.15"/>
<line x1="577.5" y1="336.2" x2="589.6" y2="336.2" stroke="#111" stroke-width="1.15"/>
<line x1="589.6" y1="336.7" x2="600.9" y2="336.7" stroke="#111" stroke-width="1.15"/>
<line x1="600.9" y1="334.9" x2="612.7" y2="334.9" stroke="#111" stroke-width="1.15"/>
<line x1="606.2" y1="338.0" x2="618" y2="338.0" stroke="#111" stroke-width="1.15"/>
<line x1="618" y1="342.0" x2="629.8" y2="342.0" stroke="#111" stroke-width="1.15"/>
<line x1="629" y1="338.3" x2="641.1" y2="338.3" stroke="#111" stroke-width="1.15"/>
<line x1="635" y1="334.9" x2="646.9" y2="334.9" stroke="#111" stroke-width="1.15"/>
<line x1="646.4" y1="327.0" x2="657.9" y2="327.0" stroke="#111" stroke-width="1.15"/>
<line x1="657.4" y1="328.3" x2="669.2" y2="328.3" stroke="#111" stroke-width="1.15"/>
</g>
<line x1="256.8" y1="545.3" x2="256.8" y2="669.0" stroke="#000" stroke-width="1.6"/>
<line x1="256.0" y1="668.2" x2="431" y2="668.2" stroke="#000" stroke-width="1.6"/>
<line x1="252.3" y1="545.3" x2="256.8" y2="545.3" stroke="#000" stroke-width="1.4"/>
<text x="243.3" y="549.9" font-size="13" text-anchor="end" fill="#333" >1.5</text>
<line x1="252.3" y1="586.2666666666667" x2="256.8" y2="586.2666666666667" stroke="#000" stroke-width="1.4"/>
<text x="243.3" y="590.87" font-size="13" text-anchor="end" fill="#333" >1</text>
<line x1="252.3" y1="627.2333333333333" x2="256.8" y2="627.2333333333333" stroke="#000" stroke-width="1.4"/>
<text x="243.3" y="631.83" font-size="13" text-anchor="end" fill="#333" >0.5</text>
<line x1="252.3" y1="668.2" x2="256.8" y2="668.2" stroke="#000" stroke-width="1.4"/>
<text x="243.3" y="672.8" font-size="13" text-anchor="end" fill="#333" >0</text>
<text x="283.7" y="690.3" font-size="14" text-anchor="middle" fill="#222" >-2.1</text>
<text x="314.0" y="690.3" font-size="14" text-anchor="middle" fill="#222" >-0.6</text>
<text x="343.7" y="690.3" font-size="14" text-anchor="middle" fill="#222" >0.4</text>
<text x="374.1" y="690.3" font-size="14" text-anchor="middle" fill="#222" >1.9</text>
<text x="404.6" y="690.3" font-size="14" text-anchor="middle" fill="#222" >2.9</text>
<text x="270.0" y="706.7" font-size="15.2" text-anchor="start" fill="#111" >Intensity (log cd sec/ m<tspan font-size="9.5" dy="-5.5">2</tspan><tspan dy="5.5">)</tspan></text>
<text x="0" y="0" font-size="15.3" fill="#111" textLength="187.3" lengthAdjust="spacingAndGlyphs" transform="translate(218.3,702.4) rotate(-90)" xml:space="preserve">Amplitude  of a wave (mV)</text>
<g transform="translate(0.4,0.4)">
<circle cx="274.2" cy="659.0" r="2.55" fill="#5592d0" stroke="#46739f" stroke-width="0.7"/>
<circle cx="274.2" cy="661.7" r="2.55" fill="#5592d0" stroke="#46739f" stroke-width="0.7"/>
<circle cx="274.2" cy="664.3" r="2.55" fill="#5592d0" stroke="#46739f" stroke-width="0.7"/>
<circle cx="274.2" cy="666.1" r="2.55" fill="#5592d0" stroke="#46739f" stroke-width="0.7"/>
<circle cx="286.0" cy="660.4" r="2.55" fill="#66a746" stroke="#4f7d3a" stroke-width="0.7"/>
<circle cx="286.0" cy="663.0" r="2.55" fill="#66a746" stroke="#4f7d3a" stroke-width="0.7"/>
<circle cx="286.0" cy="664.8" r="2.55" fill="#66a746" stroke="#4f7d3a" stroke-width="0.7"/>
<circle cx="297.3" cy="665.6" r="2.55" fill="#e44935" stroke="#a9463a" stroke-width="0.7"/>
<circle cx="297.3" cy="667.7" r="2.55" fill="#e44935" stroke="#a9463a" stroke-width="0.7"/>
<circle cx="303.3" cy="619.6" r="2.55" fill="#5592d0" stroke="#46739f" stroke-width="0.7"/>
<circle cx="303.3" cy="623.6" r="2.55" fill="#5592d0" stroke="#46739f" stroke-width="0.7"/>
<circle cx="303.3" cy="626.2" r="2.55" fill="#5592d0" stroke="#46739f" stroke-width="0.7"/>
<circle cx="303.3" cy="628.8" r="2.55" fill="#5592d0" stroke="#46739f" stroke-width="0.7"/>
<circle cx="303.3" cy="630.9" r="2.55" fill="#5592d0" stroke="#46739f" stroke-width="0.7"/>
<circle cx="314.9" cy="623.0" r="2.55" fill="#66a746" stroke="#4f7d3a" stroke-width="0.7"/>
<circle cx="314.9" cy="624.9" r="2.55" fill="#66a746" stroke="#4f7d3a" stroke-width="0.7"/>
<circle cx="314.9" cy="638.0" r="2.55" fill="#66a746" stroke="#4f7d3a" stroke-width="0.7"/>
<circle cx="314.9" cy="640.6" r="2.55" fill="#66a746" stroke="#4f7d3a" stroke-width="0.7"/>
<circle cx="326.7" cy="657.7" r="2.55" fill="#e44935" stroke="#a9463a" stroke-width="0.7"/>
<circle cx="326.7" cy="659.8" r="2.55" fill="#e44935" stroke="#a9463a" stroke-width="0.7"/>
<circle cx="326.7" cy="663.0" r="2.55" fill="#e44935" stroke="#a9463a" stroke-width="0.7"/>
<circle cx="332.2" cy="595.2" r="2.55" fill="#5592d0" stroke="#46739f" stroke-width="0.7"/>
<circle cx="332.2" cy="600.4" r="2.55" fill="#5592d0" stroke="#46739f" stroke-width="0.7"/>
<circle cx="332.2" cy="605.2" r="2.55" fill="#5592d0" stroke="#46739f" stroke-width="0.7"/>
<circle cx="332.2" cy="609.1" r="2.55" fill="#5592d0" stroke="#46739f" stroke-width="0.7"/>
<circle cx="332.2" cy="614.4" r="2.55" fill="#5592d0" stroke="#46739f" stroke-width="0.7"/>
<circle cx="343.8" cy="601.2" r="2.55" fill="#66a746" stroke="#4f7d3a" stroke-width="0.7"/>
<circle cx="343.8" cy="603.9" r="2.55" fill="#66a746" stroke="#4f7d3a" stroke-width="0.7"/>
<circle cx="343.8" cy="609.1" r="2.55" fill="#66a746" stroke="#4f7d3a" stroke-width="0.7"/>
<circle cx="343.8" cy="614.4" r="2.55" fill="#66a746" stroke="#4f7d3a" stroke-width="0.7"/>
<circle cx="343.8" cy="620.9" r="2.55" fill="#66a746" stroke="#4f7d3a" stroke-width="0.7"/>
<circle cx="355.1" cy="657.7" r="2.55" fill="#e44935" stroke="#a9463a" stroke-width="0.7"/>
<circle cx="355.1" cy="660.4" r="2.55" fill="#e44935" stroke="#a9463a" stroke-width="0.7"/>
<circle cx="361.4" cy="563.7" r="2.55" fill="#5592d0" stroke="#46739f" stroke-width="0.7"/>
<circle cx="361.4" cy="588.1" r="2.55" fill="#5592d0" stroke="#46739f" stroke-width="0.7"/>
<circle cx="361.4" cy="594.1" r="2.55" fill="#5592d0" stroke="#46739f" stroke-width="0.7"/>
<circle cx="361.4" cy="600.4" r="2.55" fill="#5592d0" stroke="#46739f" stroke-width="0.7"/>
<circle cx="372.7" cy="590.7" r="2.55" fill="#66a746" stroke="#4f7d3a" stroke-width="0.7"/>
<circle cx="372.7" cy="592.6" r="2.55" fill="#66a746" stroke="#4f7d3a" stroke-width="0.7"/>
<circle cx="372.7" cy="596.0" r="2.55" fill="#66a746" stroke="#4f7d3a" stroke-width="0.7"/>
<circle cx="372.7" cy="606.5" r="2.55" fill="#66a746" stroke="#4f7d3a" stroke-width="0.7"/>
<circle cx="384.5" cy="654.6" r="2.55" fill="#e44935" stroke="#a9463a" stroke-width="0.7"/>
<circle cx="384.5" cy="657.7" r="2.55" fill="#e44935" stroke="#a9463a" stroke-width="0.7"/>
<circle cx="384.5" cy="661.7" r="2.55" fill="#e44935" stroke="#a9463a" stroke-width="0.7"/>
<circle cx="390.3" cy="568.4" r="2.55" fill="#5592d0" stroke="#46739f" stroke-width="0.7"/>
<circle cx="390.3" cy="571.0" r="2.55" fill="#5592d0" stroke="#46739f" stroke-width="0.7"/>
<circle cx="390.3" cy="582.8" r="2.55" fill="#5592d0" stroke="#46739f" stroke-width="0.7"/>
<circle cx="390.3" cy="586.8" r="2.55" fill="#5592d0" stroke="#46739f" stroke-width="0.7"/>
<circle cx="390.3" cy="590.0" r="2.55" fill="#5592d0" stroke="#46739f" stroke-width="0.7"/>
<circle cx="401.9" cy="557.1" r="2.55" fill="#66a746" stroke="#4f7d3a" stroke-width="0.7"/>
<circle cx="401.9" cy="588.1" r="2.55" fill="#66a746" stroke="#4f7d3a" stroke-width="0.7"/>
<circle cx="401.9" cy="592.6" r="2.55" fill="#66a746" stroke="#4f7d3a" stroke-width="0.7"/>
<circle cx="401.9" cy="594.7" r="2.55" fill="#66a746" stroke="#4f7d3a" stroke-width="0.7"/>
<circle cx="413.4" cy="653.8" r="2.55" fill="#e44935" stroke="#a9463a" stroke-width="0.7"/>
<circle cx="413.4" cy="657.7" r="2.55" fill="#e44935" stroke="#a9463a" stroke-width="0.7"/>
<circle cx="413.4" cy="666.9" r="2.55" fill="#e44935" stroke="#a9463a" stroke-width="0.7"/>
<line x1="268.4" y1="663.5" x2="280.2" y2="663.5" stroke="#111" stroke-width="1.15"/>
<line x1="280.2" y1="662.2" x2="292" y2="662.2" stroke="#111" stroke-width="1.15"/>
<line x1="292" y1="667.4" x2="303.9" y2="667.4" stroke="#111" stroke-width="1.15"/>
<line x1="297.3" y1="625.9" x2="309.1" y2="625.9" stroke="#111" stroke-width="1.15"/>
<line x1="309.1" y1="636.2" x2="320.9" y2="636.2" stroke="#111" stroke-width="1.15"/>
<line x1="320.4" y1="660.4" x2="332.8" y2="660.4" stroke="#111" stroke-width="1.15"/>
<line x1="326.2" y1="603.9" x2="338" y2="603.9" stroke="#111" stroke-width="1.15"/>
<line x1="338" y1="610.4" x2="349.8" y2="610.4" stroke="#111" stroke-width="1.15"/>
<line x1="349.3" y1="659.0" x2="361.7" y2="659.0" stroke="#111" stroke-width="1.15"/>
<line x1="355.1" y1="587.6" x2="366.9" y2="587.6" stroke="#111" stroke-width="1.15"/>
<line x1="366.9" y1="594.1" x2="379.2" y2="594.1" stroke="#111" stroke-width="1.15"/>
<line x1="378.7" y1="657.7" x2="390.6" y2="657.7" stroke="#111" stroke-width="1.15"/>
<line x1="384" y1="578.4" x2="395.8" y2="578.4" stroke="#111" stroke-width="1.15"/>
<line x1="395.8" y1="583.4" x2="407.6" y2="583.4" stroke="#111" stroke-width="1.15"/>
<line x1="407.6" y1="657.7" x2="419.5" y2="657.7" stroke="#111" stroke-width="1.15"/>
<text x="297.3" y="667.3" font-size="16" text-anchor="middle" fill="#111" >**</text>
<text x="326.7" y="658.2" font-size="16" text-anchor="middle" fill="#111" >**</text>
<text x="355.6" y="658.2" font-size="16" text-anchor="middle" fill="#111" >**</text>
<text x="384.5" y="654.3" font-size="16" text-anchor="middle" fill="#111" >**</text>
<text x="413.4" y="654.3" font-size="16" text-anchor="middle" fill="#111" >**</text>
</g>
<line x1="504.6" y1="550.0" x2="504.6" y2="673.1999999999999" stroke="#000" stroke-width="1.6"/>
<line x1="503.8" y1="672.4" x2="681" y2="672.4" stroke="#000" stroke-width="1.6"/>
<line x1="500.1" y1="550.0" x2="504.6" y2="550.0" stroke="#000" stroke-width="1.4"/>
<text x="491.1" y="554.6" font-size="13" text-anchor="end" fill="#333" >30</text>
<line x1="500.1" y1="590.8" x2="504.6" y2="590.8" stroke="#000" stroke-width="1.4"/>
<text x="491.1" y="595.4" font-size="13" text-anchor="end" fill="#333" >20</text>
<line x1="500.1" y1="631.6" x2="504.6" y2="631.6" stroke="#000" stroke-width="1.4"/>
<text x="491.1" y="636.2" font-size="13" text-anchor="end" fill="#333" >10</text>
<line x1="500.1" y1="672.4" x2="504.6" y2="672.4" stroke="#000" stroke-width="1.4"/>
<text x="491.1" y="677.0" font-size="13" text-anchor="end" fill="#333" >0</text>
<text x="528.0" y="690.0" font-size="14" text-anchor="middle" fill="#222" >-2.1</text>
<text x="557.5" y="690.0" font-size="14" text-anchor="middle" fill="#222" >-0.6</text>
<text x="587.9" y="690.0" font-size="14" text-anchor="middle" fill="#222" >0.4</text>
<text x="618.3" y="690.0" font-size="14" text-anchor="middle" fill="#222" >1.9</text>
<text x="648.5" y="690.0" font-size="14" text-anchor="middle" fill="#222" >2.9</text>
<text x="516.0" y="707.4" font-size="15.2" text-anchor="start" fill="#111" >Intensity (log cd sec/ m<tspan font-size="9.5" dy="-5.5">2</tspan><tspan dy="5.5">)</tspan></text>
<text x="0" y="0" font-size="15.3" fill="#111" textLength="186.8" lengthAdjust="spacingAndGlyphs" transform="translate(471.0,704.8) rotate(-90)" xml:space="preserve">Implicit time of a wave (ms)</text>
<g transform="translate(0.4,0.4)">
<circle cx="521.5" cy="569.4" r="2.55" fill="#5592d0" stroke="#46739f" stroke-width="0.7"/>
<circle cx="521.5" cy="579.2" r="2.55" fill="#5592d0" stroke="#46739f" stroke-width="0.7"/>
<circle cx="521.5" cy="581.0" r="2.55" fill="#5592d0" stroke="#46739f" stroke-width="0.7"/>
<circle cx="521.5" cy="588.9" r="2.55" fill="#5592d0" stroke="#46739f" stroke-width="0.7"/>
<circle cx="533.4" cy="565.2" r="2.55" fill="#66a746" stroke="#4f7d3a" stroke-width="0.7"/>
<circle cx="533.4" cy="578.6" r="2.55" fill="#66a746" stroke="#4f7d3a" stroke-width="0.7"/>
<circle cx="533.4" cy="581.8" r="2.55" fill="#66a746" stroke="#4f7d3a" stroke-width="0.7"/>
<circle cx="533.4" cy="585.2" r="2.55" fill="#66a746" stroke="#4f7d3a" stroke-width="0.7"/>
<circle cx="533.4" cy="593.1" r="2.55" fill="#66a746" stroke="#4f7d3a" stroke-width="0.7"/>
<circle cx="545.2" cy="575.7" r="2.55" fill="#e44935" stroke="#a9463a" stroke-width="0.7"/>
<circle cx="545.2" cy="597.0" r="2.55" fill="#e44935" stroke="#a9463a" stroke-width="0.7"/>
<circle cx="545.2" cy="599.6" r="2.55" fill="#e44935" stroke="#a9463a" stroke-width="0.7"/>
<circle cx="545.2" cy="613.8" r="2.55" fill="#e44935" stroke="#a9463a" stroke-width="0.7"/>
<circle cx="545.2" cy="623.8" r="2.55" fill="#e44935" stroke="#a9463a" stroke-width="0.7"/>
<circle cx="551.2" cy="576.5" r="2.55" fill="#5592d0" stroke="#46739f" stroke-width="0.7"/>
<circle cx="551.2" cy="579.2" r="2.55" fill="#5592d0" stroke="#46739f" stroke-width="0.7"/>
<circle cx="551.2" cy="581.8" r="2.55" fill="#5592d0" stroke="#46739f" stroke-width="0.7"/>
<circle cx="551.2" cy="585.0" r="2.55" fill="#5592d0" stroke="#46739f" stroke-width="0.7"/>
<circle cx="551.2" cy="588.4" r="2.55" fill="#5592d0" stroke="#46739f" stroke-width="0.7"/>
<circle cx="563.1" cy="576.5" r="2.55" fill="#66a746" stroke="#4f7d3a" stroke-width="0.7"/>
<circle cx="563.1" cy="579.7" r="2.55" fill="#66a746" stroke="#4f7d3a" stroke-width="0.7"/>
<circle cx="563.1" cy="583.1" r="2.55" fill="#66a746" stroke="#4f7d3a" stroke-width="0.7"/>
<circle cx="563.1" cy="586.5" r="2.55" fill="#66a746" stroke="#4f7d3a" stroke-width="0.7"/>
<circle cx="563.1" cy="588.4" r="2.55" fill="#66a746" stroke="#4f7d3a" stroke-width="0.7"/>
<circle cx="574.9" cy="579.2" r="2.55" fill="#e44935" stroke="#a9463a" stroke-width="0.7"/>
<circle cx="574.9" cy="585.2" r="2.55" fill="#e44935" stroke="#a9463a" stroke-width="0.7"/>
<circle cx="574.9" cy="589.7" r="2.55" fill="#e44935" stroke="#a9463a" stroke-width="0.7"/>
<circle cx="574.9" cy="598.9" r="2.55" fill="#e44935" stroke="#a9463a" stroke-width="0.7"/>
<circle cx="580.9" cy="621.2" r="2.55" fill="#5592d0" stroke="#46739f" stroke-width="0.7"/>
<circle cx="580.9" cy="625.1" r="2.55" fill="#5592d0" stroke="#46739f" stroke-width="0.7"/>
<circle cx="580.9" cy="629.9" r="2.55" fill="#5592d0" stroke="#46739f" stroke-width="0.7"/>
<circle cx="592.5" cy="626.5" r="2.55" fill="#66a746" stroke="#4f7d3a" stroke-width="0.7"/>
<circle cx="592.5" cy="629.6" r="2.55" fill="#66a746" stroke="#4f7d3a" stroke-width="0.7"/>
<circle cx="604.3" cy="602.3" r="2.55" fill="#e44935" stroke="#a9463a" stroke-width="0.7"/>
<circle cx="604.3" cy="622.5" r="2.55" fill="#e44935" stroke="#a9463a" stroke-width="0.7"/>
<circle cx="604.3" cy="626.5" r="2.55" fill="#e44935" stroke="#a9463a" stroke-width="0.7"/>
<circle cx="604.3" cy="631.2" r="2.55" fill="#e44935" stroke="#a9463a" stroke-width="0.7"/>
<circle cx="610.4" cy="644.8" r="2.55" fill="#5592d0" stroke="#46739f" stroke-width="0.7"/>
<circle cx="610.4" cy="648.3" r="2.55" fill="#5592d0" stroke="#46739f" stroke-width="0.7"/>
<circle cx="610.4" cy="651.4" r="2.55" fill="#5592d0" stroke="#46739f" stroke-width="0.7"/>
<circle cx="610.4" cy="654.8" r="2.55" fill="#5592d0" stroke="#46739f" stroke-width="0.7"/>
<circle cx="622.2" cy="647.5" r="2.55" fill="#66a746" stroke="#4f7d3a" stroke-width="0.7"/>
<circle cx="622.2" cy="648.8" r="2.55" fill="#66a746" stroke="#4f7d3a" stroke-width="0.7"/>
<circle cx="634.0" cy="646.2" r="2.55" fill="#e44935" stroke="#a9463a" stroke-width="0.7"/>
<circle cx="634.0" cy="648.8" r="2.55" fill="#e44935" stroke="#a9463a" stroke-width="0.7"/>
<circle cx="634.0" cy="651.4" r="2.55" fill="#e44935" stroke="#a9463a" stroke-width="0.7"/>
<circle cx="640.0" cy="647.5" r="2.55" fill="#5592d0" stroke="#46739f" stroke-width="0.7"/>
<circle cx="640.0" cy="652.2" r="2.55" fill="#5592d0" stroke="#46739f" stroke-width="0.7"/>
<circle cx="640.0" cy="654.8" r="2.55" fill="#5592d0" stroke="#46739f" stroke-width="0.7"/>
<circle cx="651.6" cy="654.0" r="2.55" fill="#66a746" stroke="#4f7d3a" stroke-width="0.7"/>
<circle cx="663.4" cy="653.3" r="2.55" fill="#e44935" stroke="#a9463a" stroke-width="0.7"/>
<circle cx="663.4" cy="655.9" r="2.55" fill="#e44935" stroke="#a9463a" stroke-width="0.7"/>
<line x1="515.2" y1="581.0" x2="527.6" y2="581.0" stroke="#111" stroke-width="1.15"/>
<line x1="527.6" y1="581.3" x2="539.9" y2="581.3" stroke="#111" stroke-width="1.15"/>
<line x1="539.4" y1="602.0" x2="551.8" y2="602.0" stroke="#111" stroke-width="1.15"/>
<line x1="545.2" y1="581.0" x2="557.3" y2="581.0" stroke="#111" stroke-width="1.15"/>
<line x1="557.3" y1="582.6" x2="568.8" y2="582.6" stroke="#111" stroke-width="1.15"/>
<line x1="568.8" y1="588.4" x2="580.9" y2="588.4" stroke="#111" stroke-width="1.15"/>
<line x1="574.9" y1="625.9" x2="587.2" y2="625.9" stroke="#111" stroke-width="1.15"/>
<line x1="586.7" y1="629.1" x2="598.5" y2="629.1" stroke="#111" stroke-width="1.15"/>
<line x1="598.5" y1="622.0" x2="610.9" y2="622.0" stroke="#111" stroke-width="1.15"/>
<line x1="604.3" y1="648.8" x2="616.4" y2="648.8" stroke="#111" stroke-width="1.15"/>
<line x1="616.4" y1="648.3" x2="628.2" y2="648.3" stroke="#111" stroke-width="1.15"/>
<line x1="628.2" y1="649.3" x2="640.6" y2="649.3" stroke="#111" stroke-width="1.15"/>
<line x1="634" y1="651.4" x2="646.3" y2="651.4" stroke="#111" stroke-width="1.15"/>
<line x1="645.8" y1="654.0" x2="657.6" y2="654.0" stroke="#111" stroke-width="1.15"/>
<line x1="657.6" y1="655.4" x2="670.3" y2="655.4" stroke="#111" stroke-width="1.15"/>
</g>
<circle cx="601.7" cy="514.0" r="4.5" fill="#5592d0" stroke="#46739f" stroke-width="0.5"/>
<text x="610.0" y="519.3" font-size="14.7" text-anchor="start" fill="#111" >WT</text>
<circle cx="601.7" cy="533.6" r="4.5" fill="#66a746" stroke="#4f7d3a" stroke-width="0.5"/>
<text x="610.0" y="538.9" font-size="14.7" text-anchor="start" fill="#111" >Hetero</text>
<circle cx="601.7" cy="554.0" r="4.5" fill="#e44935" stroke="#a9463a" stroke-width="0.5"/>
<text x="610.0" y="559.3" font-size="14.7" text-anchor="start" fill="#111" >Adipor1 KO</text>
<line x1="257.1" y1="740.8" x2="257.1" y2="863.5999999999999" stroke="#000" stroke-width="1.6"/>
<line x1="256.3" y1="862.8" x2="431" y2="862.8" stroke="#000" stroke-width="1.6"/>
<line x1="252.60000000000002" y1="740.8" x2="257.1" y2="740.8" stroke="#000" stroke-width="1.4"/>
<text x="243.60000000000002" y="745.4" font-size="13" text-anchor="end" fill="#333" >4.0</text>
<line x1="252.60000000000002" y1="771.3" x2="257.1" y2="771.3" stroke="#000" stroke-width="1.4"/>
<text x="243.60000000000002" y="775.9" font-size="13" text-anchor="end" fill="#333" >3.0</text>
<line x1="252.60000000000002" y1="801.8" x2="257.1" y2="801.8" stroke="#000" stroke-width="1.4"/>
<text x="243.60000000000002" y="806.4" font-size="13" text-anchor="end" fill="#333" >2.0</text>
<line x1="252.60000000000002" y1="832.3" x2="257.1" y2="832.3" stroke="#000" stroke-width="1.4"/>
<text x="243.60000000000002" y="836.9" font-size="13" text-anchor="end" fill="#333" >1.0</text>
<line x1="252.60000000000002" y1="862.8" x2="257.1" y2="862.8" stroke="#000" stroke-width="1.4"/>
<text x="243.60000000000002" y="867.4" font-size="13" text-anchor="end" fill="#333" >0</text>
<text x="283.7" y="878.5" font-size="14" text-anchor="middle" fill="#222" >-2.1</text>
<text x="314.0" y="878.5" font-size="14" text-anchor="middle" fill="#222" >-0.6</text>
<text x="343.7" y="878.5" font-size="14" text-anchor="middle" fill="#222" >0.4</text>
<text x="374.1" y="878.5" font-size="14" text-anchor="middle" fill="#222" >1.9</text>
<text x="404.6" y="878.5" font-size="14" text-anchor="middle" fill="#222" >2.9</text>
<text x="270.0" y="896.4" font-size="15.2" text-anchor="start" fill="#111" >Intensity (log cd sec/ m<tspan font-size="9.5" dy="-5.5">2</tspan><tspan dy="5.5">)</tspan></text>
<text x="0" y="0" font-size="15.3" fill="#111" textLength="181" lengthAdjust="spacingAndGlyphs" transform="translate(218.3,890.9) rotate(-90)" xml:space="preserve">Amplitude  of b wave (mV)</text>
<g transform="translate(0.4,0.4)">
<circle cx="274.2" cy="815.7" r="2.55" fill="#5592d0" stroke="#46739f" stroke-width="0.7"/>
<circle cx="274.2" cy="820.4" r="2.55" fill="#5592d0" stroke="#46739f" stroke-width="0.7"/>
<circle cx="274.2" cy="828.8" r="2.55" fill="#5592d0" stroke="#46739f" stroke-width="0.7"/>
<circle cx="274.2" cy="836.2" r="2.55" fill="#5592d0" stroke="#46739f" stroke-width="0.7"/>
<circle cx="286.0" cy="816.5" r="2.55" fill="#66a746" stroke="#4f7d3a" stroke-width="0.7"/>
<circle cx="286.0" cy="821.0" r="2.55" fill="#66a746" stroke="#4f7d3a" stroke-width="0.7"/>
<circle cx="286.0" cy="827.0" r="2.55" fill="#66a746" stroke="#4f7d3a" stroke-width="0.7"/>
<circle cx="286.0" cy="834.1" r="2.55" fill="#66a746" stroke="#4f7d3a" stroke-width="0.7"/>
<circle cx="286.0" cy="846.7" r="2.55" fill="#66a746" stroke="#4f7d3a" stroke-width="0.7"/>
<circle cx="297.3" cy="831.5" r="2.55" fill="#e44935" stroke="#a9463a" stroke-width="0.7"/>
<circle cx="297.3" cy="838.3" r="2.55" fill="#e44935" stroke="#a9463a" stroke-width="0.7"/>
<circle cx="297.3" cy="840.1" r="2.55" fill="#e44935" stroke="#a9463a" stroke-width="0.7"/>
<circle cx="297.3" cy="843.6" r="2.55" fill="#e44935" stroke="#a9463a" stroke-width="0.7"/>
<circle cx="303.3" cy="787.6" r="2.55" fill="#5592d0" stroke="#46739f" stroke-width="0.7"/>
<circle cx="303.3" cy="790.2" r="2.55" fill="#5592d0" stroke="#46739f" stroke-width="0.7"/>
<circle cx="303.3" cy="796.8" r="2.55" fill="#5592d0" stroke="#46739f" stroke-width="0.7"/>
<circle cx="303.3" cy="806.5" r="2.55" fill="#5592d0" stroke="#46739f" stroke-width="0.7"/>
<circle cx="303.3" cy="826.5" r="2.55" fill="#5592d0" stroke="#46739f" stroke-width="0.7"/>
<circle cx="314.9" cy="791.5" r="2.55" fill="#66a746" stroke="#4f7d3a" stroke-width="0.7"/>
<circle cx="314.9" cy="794.2" r="2.55" fill="#66a746" stroke="#4f7d3a" stroke-width="0.7"/>
<circle cx="314.9" cy="800.7" r="2.55" fill="#66a746" stroke="#4f7d3a" stroke-width="0.7"/>
<circle cx="314.9" cy="815.2" r="2.55" fill="#66a746" stroke="#4f7d3a" stroke-width="0.7"/>
<circle cx="314.9" cy="824.4" r="2.55" fill="#66a746" stroke="#4f7d3a" stroke-width="0.7"/>
<circle cx="326.7" cy="819.9" r="2.55" fill="#e44935" stroke="#a9463a" stroke-width="0.7"/>
<circle cx="326.7" cy="828.8" r="2.55" fill="#e44935" stroke="#a9463a" stroke-width="0.7"/>
<circle cx="326.7" cy="834.1" r="2.55" fill="#e44935" stroke="#a9463a" stroke-width="0.7"/>
<circle cx="332.2" cy="778.5" r="2.55" fill="#5592d0" stroke="#46739f" stroke-width="0.7"/>
<circle cx="332.2" cy="781.0" r="2.55" fill="#5592d0" stroke="#46739f" stroke-width="0.7"/>
<circle cx="332.2" cy="783.2" r="2.55" fill="#5592d0" stroke="#46739f" stroke-width="0.7"/>
<circle cx="332.2" cy="802.6" r="2.55" fill="#5592d0" stroke="#46739f" stroke-width="0.7"/>
<circle cx="332.2" cy="815.2" r="2.55" fill="#5592d0" stroke="#46739f" stroke-width="0.7"/>
<circle cx="343.8" cy="783.5" r="2.55" fill="#66a746" stroke="#4f7d3a" stroke-width="0.7"/>
<circle cx="343.8" cy="789.2" r="2.55" fill="#66a746" stroke="#4f7d3a" stroke-width="0.7"/>
<circle cx="343.8" cy="804.1" r="2.55" fill="#66a746" stroke="#4f7d3a" stroke-width="0.7"/>
<circle cx="343.8" cy="812.0" r="2.55" fill="#66a746" stroke="#4f7d3a" stroke-width="0.7"/>
<circle cx="355.6" cy="815.7" r="2.55" fill="#e44935" stroke="#a9463a" stroke-width="0.7"/>
<circle cx="355.6" cy="825.2" r="2.55" fill="#e44935" stroke="#a9463a" stroke-width="0.7"/>
<circle cx="355.6" cy="831.5" r="2.55" fill="#e44935" stroke="#a9463a" stroke-width="0.7"/>
<circle cx="361.1" cy="760.2" r="2.55" fill="#5592d0" stroke="#46739f" stroke-width="0.7"/>
<circle cx="361.1" cy="774.3" r="2.55" fill="#5592d0" stroke="#46739f" stroke-width="0.7"/>
<circle cx="361.1" cy="776.8" r="2.55" fill="#5592d0" stroke="#46739f" stroke-width="0.7"/>
<circle cx="361.1" cy="796.5" r="2.55" fill="#5592d0" stroke="#46739f" stroke-width="0.7"/>
<circle cx="361.1" cy="803.4" r="2.55" fill="#5592d0" stroke="#46739f" stroke-width="0.7"/>
<circle cx="372.7" cy="779.7" r="2.55" fill="#66a746" stroke="#4f7d3a" stroke-width="0.7"/>
<circle cx="372.7" cy="784.2" r="2.55" fill="#66a746" stroke="#4f7d3a" stroke-width="0.7"/>
<circle cx="372.7" cy="795.5" r="2.55" fill="#66a746" stroke="#4f7d3a" stroke-width="0.7"/>
<circle cx="384.5" cy="814.7" r="2.55" fill="#e44935" stroke="#a9463a" stroke-width="0.7"/>
<circle cx="384.5" cy="819.1" r="2.55" fill="#e44935" stroke="#a9463a" stroke-width="0.7"/>
<circle cx="384.5" cy="823.1" r="2.55" fill="#e44935" stroke="#a9463a" stroke-width="0.7"/>
<circle cx="384.5" cy="827.8" r="2.55" fill="#e44935" stroke="#a9463a" stroke-width="0.7"/>
<circle cx="390.3" cy="764.7" r="2.55" fill="#5592d0" stroke="#46739f" stroke-width="0.7"/>
<circle cx="390.3" cy="772.5" r="2.55" fill="#5592d0" stroke="#46739f" stroke-width="0.7"/>
<circle cx="390.3" cy="775.0" r="2.55" fill="#5592d0" stroke="#46739f" stroke-width="0.7"/>
<circle cx="390.3" cy="786.7" r="2.55" fill="#5592d0" stroke="#46739f" stroke-width="0.7"/>
<circle cx="401.9" cy="767.4" r="2.55" fill="#66a746" stroke="#4f7d3a" stroke-width="0.7"/>
<circle cx="401.9" cy="780.4" r="2.55" fill="#66a746" stroke="#4f7d3a" stroke-width="0.7"/>
<circle cx="401.9" cy="783.9" r="2.55" fill="#66a746" stroke="#4f7d3a" stroke-width="0.7"/>
<circle cx="401.9" cy="786.5" r="2.55" fill="#66a746" stroke="#4f7d3a" stroke-width="0.7"/>
<circle cx="401.9" cy="789.0" r="2.55" fill="#66a746" stroke="#4f7d3a" stroke-width="0.7"/>
<circle cx="413.4" cy="813.9" r="2.55" fill="#e44935" stroke="#a9463a" stroke-width="0.7"/>
<circle cx="413.4" cy="816.5" r="2.55" fill="#e44935" stroke="#a9463a" stroke-width="0.7"/>
<circle cx="413.4" cy="824.4" r="2.55" fill="#e44935" stroke="#a9463a" stroke-width="0.7"/>
<line x1="267.9" y1="826.2" x2="280.2" y2="826.2" stroke="#111" stroke-width="1.15"/>
<line x1="280.2" y1="827.8" x2="292" y2="827.8" stroke="#111" stroke-width="1.15"/>
<line x1="291.5" y1="838.3" x2="303.9" y2="838.3" stroke="#111" stroke-width="1.15"/>
<line x1="297.3" y1="801.5" x2="309.1" y2="801.5" stroke="#111" stroke-width="1.15"/>
<line x1="309.1" y1="804.7" x2="320.9" y2="804.7" stroke="#111" stroke-width="1.15"/>
<line x1="320.4" y1="827.5" x2="332.8" y2="827.5" stroke="#111" stroke-width="1.15"/>
<line x1="326.2" y1="791.5" x2="338" y2="791.5" stroke="#111" stroke-width="1.15"/>
<line x1="338" y1="795.5" x2="349.8" y2="795.5" stroke="#111" stroke-width="1.15"/>
<line x1="349.3" y1="824.4" x2="361.7" y2="824.4" stroke="#111" stroke-width="1.15"/>
<line x1="355.1" y1="781.8" x2="366.9" y2="781.8" stroke="#111" stroke-width="1.15"/>
<line x1="366.9" y1="787.1" x2="379.2" y2="787.1" stroke="#111" stroke-width="1.15"/>
<line x1="378.7" y1="821.0" x2="390.6" y2="821.0" stroke="#111" stroke-width="1.15"/>
<line x1="384" y1="774.5" x2="395.8" y2="774.5" stroke="#111" stroke-width="1.15"/>
<line x1="395.8" y1="781.5" x2="407.6" y2="781.5" stroke="#111" stroke-width="1.15"/>
<line x1="407.6" y1="816.5" x2="419.5" y2="816.5" stroke="#111" stroke-width="1.15"/>
<text x="326.2" y="818.3" font-size="16" text-anchor="middle" fill="#111" >**</text>
<text x="355.6" y="818.3" font-size="16" text-anchor="middle" fill="#111" >**</text>
</g>
<line x1="511.3" y1="739.2" x2="511.3" y2="863.5999999999999" stroke="#000" stroke-width="1.6"/>
<line x1="510.5" y1="862.8" x2="680" y2="862.8" stroke="#000" stroke-width="1.6"/>
<line x1="506.8" y1="739.2" x2="511.3" y2="739.2" stroke="#000" stroke-width="1.4"/>
<text x="497.8" y="743.8" font-size="13" text-anchor="end" fill="#333" >100</text>
<line x1="506.8" y1="763.9200000000001" x2="511.3" y2="763.9200000000001" stroke="#000" stroke-width="1.4"/>
<text x="497.8" y="768.52" font-size="13" text-anchor="end" fill="#333" >80</text>
<line x1="506.8" y1="788.64" x2="511.3" y2="788.64" stroke="#000" stroke-width="1.4"/>
<text x="497.8" y="793.24" font-size="13" text-anchor="end" fill="#333" >60</text>
<line x1="506.8" y1="813.36" x2="511.3" y2="813.36" stroke="#000" stroke-width="1.4"/>
<text x="497.8" y="817.96" font-size="13" text-anchor="end" fill="#333" >40</text>
<line x1="506.8" y1="838.0799999999999" x2="511.3" y2="838.0799999999999" stroke="#000" stroke-width="1.4"/>
<text x="497.8" y="842.68" font-size="13" text-anchor="end" fill="#333" >20</text>
<line x1="506.8" y1="862.8" x2="511.3" y2="862.8" stroke="#000" stroke-width="1.4"/>
<text x="497.8" y="867.4" font-size="13" text-anchor="end" fill="#333" >0</text>
<text x="528.0" y="878.3" font-size="14" text-anchor="middle" fill="#222" >-2.1</text>
<text x="557.5" y="878.3" font-size="14" text-anchor="middle" fill="#222" >-0.6</text>
<text x="587.9" y="878.3" font-size="14" text-anchor="middle" fill="#222" >0.4</text>
<text x="618.3" y="878.3" font-size="14" text-anchor="middle" fill="#222" >1.9</text>
<text x="648.5" y="878.3" font-size="14" text-anchor="middle" fill="#222" >2.9</text>
<text x="516.0" y="896.3" font-size="15.2" text-anchor="start" fill="#111" >Intensity (log cd sec/ m<tspan font-size="9.5" dy="-5.5">2</tspan><tspan dy="5.5">)</tspan></text>
<text x="0" y="0" font-size="15.3" fill="#111" textLength="186.7" lengthAdjust="spacingAndGlyphs" transform="translate(470.5,895.9) rotate(-90)" xml:space="preserve">Implicit time of b wave (ms)</text>
<g transform="translate(0.4,0.4)">
<circle cx="528.6" cy="778.6" r="2.55" fill="#5592d0" stroke="#46739f" stroke-width="0.7"/>
<circle cx="528.6" cy="782.5" r="2.55" fill="#5592d0" stroke="#46739f" stroke-width="0.7"/>
<circle cx="528.6" cy="786.5" r="2.55" fill="#5592d0" stroke="#46739f" stroke-width="0.7"/>
<circle cx="528.6" cy="798.8" r="2.55" fill="#5592d0" stroke="#46739f" stroke-width="0.7"/>
<circle cx="539.2" cy="789.1" r="2.55" fill="#66a746" stroke="#4f7d3a" stroke-width="0.7"/>
<circle cx="539.2" cy="793.1" r="2.55" fill="#66a746" stroke="#4f7d3a" stroke-width="0.7"/>
<circle cx="539.2" cy="797.0" r="2.55" fill="#66a746" stroke="#4f7d3a" stroke-width="0.7"/>
<circle cx="539.2" cy="807.0" r="2.55" fill="#66a746" stroke="#4f7d3a" stroke-width="0.7"/>
<circle cx="551.0" cy="781.2" r="2.55" fill="#e44935" stroke="#a9463a" stroke-width="0.7"/>
<circle cx="551.0" cy="785.2" r="2.55" fill="#e44935" stroke="#a9463a" stroke-width="0.7"/>
<circle cx="551.0" cy="789.1" r="2.55" fill="#e44935" stroke="#a9463a" stroke-width="0.7"/>
<circle cx="551.0" cy="792.5" r="2.55" fill="#e44935" stroke="#a9463a" stroke-width="0.7"/>
<circle cx="556.8" cy="787.3" r="2.55" fill="#5592d0" stroke="#46739f" stroke-width="0.7"/>
<circle cx="556.8" cy="806.2" r="2.55" fill="#5592d0" stroke="#46739f" stroke-width="0.7"/>
<circle cx="556.8" cy="821.2" r="2.55" fill="#5592d0" stroke="#46739f" stroke-width="0.7"/>
<circle cx="568.1" cy="813.6" r="2.55" fill="#66a746" stroke="#4f7d3a" stroke-width="0.7"/>
<circle cx="568.1" cy="815.4" r="2.55" fill="#66a746" stroke="#4f7d3a" stroke-width="0.7"/>
<circle cx="568.1" cy="817.5" r="2.55" fill="#66a746" stroke="#4f7d3a" stroke-width="0.7"/>
<circle cx="568.1" cy="819.3" r="2.55" fill="#66a746" stroke="#4f7d3a" stroke-width="0.7"/>
<circle cx="579.4" cy="791.2" r="2.55" fill="#e44935" stroke="#a9463a" stroke-width="0.7"/>
<circle cx="579.4" cy="797.0" r="2.55" fill="#e44935" stroke="#a9463a" stroke-width="0.7"/>
<circle cx="579.4" cy="799.6" r="2.55" fill="#e44935" stroke="#a9463a" stroke-width="0.7"/>
<circle cx="579.4" cy="806.2" r="2.55" fill="#e44935" stroke="#a9463a" stroke-width="0.7"/>
<circle cx="579.4" cy="812.2" r="2.55" fill="#e44935" stroke="#a9463a" stroke-width="0.7"/>
<circle cx="585.1" cy="800.4" r="2.55" fill="#5592d0" stroke="#46739f" stroke-width="0.7"/>
<circle cx="585.1" cy="812.2" r="2.55" fill="#5592d0" stroke="#46739f" stroke-width="0.7"/>
<circle cx="585.1" cy="816.2" r="2.55" fill="#5592d0" stroke="#46739f" stroke-width="0.7"/>
<circle cx="585.1" cy="825.1" r="2.55" fill="#5592d0" stroke="#46739f" stroke-width="0.7"/>
<circle cx="596.2" cy="816.2" r="2.55" fill="#66a746" stroke="#4f7d3a" stroke-width="0.7"/>
<circle cx="596.2" cy="819.3" r="2.55" fill="#66a746" stroke="#4f7d3a" stroke-width="0.7"/>
<circle cx="596.2" cy="822.0" r="2.55" fill="#66a746" stroke="#4f7d3a" stroke-width="0.7"/>
<circle cx="596.2" cy="823.8" r="2.55" fill="#66a746" stroke="#4f7d3a" stroke-width="0.7"/>
<circle cx="607.5" cy="791.7" r="2.55" fill="#e44935" stroke="#a9463a" stroke-width="0.7"/>
<circle cx="607.5" cy="800.9" r="2.55" fill="#e44935" stroke="#a9463a" stroke-width="0.7"/>
<circle cx="607.5" cy="803.6" r="2.55" fill="#e44935" stroke="#a9463a" stroke-width="0.7"/>
<circle cx="612.7" cy="806.2" r="2.55" fill="#5592d0" stroke="#46739f" stroke-width="0.7"/>
<circle cx="612.7" cy="817.5" r="2.55" fill="#5592d0" stroke="#46739f" stroke-width="0.7"/>
<circle cx="612.7" cy="827.7" r="2.55" fill="#5592d0" stroke="#46739f" stroke-width="0.7"/>
<circle cx="624.5" cy="819.3" r="2.55" fill="#66a746" stroke="#4f7d3a" stroke-width="0.7"/>
<circle cx="624.5" cy="822.0" r="2.55" fill="#66a746" stroke="#4f7d3a" stroke-width="0.7"/>
<circle cx="624.5" cy="824.6" r="2.55" fill="#66a746" stroke="#4f7d3a" stroke-width="0.7"/>
<circle cx="624.5" cy="826.7" r="2.55" fill="#66a746" stroke="#4f7d3a" stroke-width="0.7"/>
<circle cx="636.4" cy="769.4" r="2.55" fill="#e44935" stroke="#a9463a" stroke-width="0.7"/>
<circle cx="636.4" cy="777.8" r="2.55" fill="#e44935" stroke="#a9463a" stroke-width="0.7"/>
<circle cx="636.4" cy="798.8" r="2.55" fill="#e44935" stroke="#a9463a" stroke-width="0.7"/>
<circle cx="636.4" cy="821.4" r="2.55" fill="#e44935" stroke="#a9463a" stroke-width="0.7"/>
<circle cx="641.6" cy="810.7" r="2.55" fill="#5592d0" stroke="#46739f" stroke-width="0.7"/>
<circle cx="641.6" cy="818.0" r="2.55" fill="#5592d0" stroke="#46739f" stroke-width="0.7"/>
<circle cx="641.6" cy="820.6" r="2.55" fill="#5592d0" stroke="#46739f" stroke-width="0.7"/>
<circle cx="641.6" cy="829.8" r="2.55" fill="#5592d0" stroke="#46739f" stroke-width="0.7"/>
<circle cx="652.9" cy="823.3" r="2.55" fill="#66a746" stroke="#4f7d3a" stroke-width="0.7"/>
<circle cx="652.9" cy="825.9" r="2.55" fill="#66a746" stroke="#4f7d3a" stroke-width="0.7"/>
<circle cx="652.9" cy="829.3" r="2.55" fill="#66a746" stroke="#4f7d3a" stroke-width="0.7"/>
<circle cx="664.5" cy="771.5" r="2.55" fill="#e44935" stroke="#a9463a" stroke-width="0.7"/>
<circle cx="664.5" cy="779.9" r="2.55" fill="#e44935" stroke="#a9463a" stroke-width="0.7"/>
<circle cx="664.5" cy="782.5" r="2.55" fill="#e44935" stroke="#a9463a" stroke-width="0.7"/>
<circle cx="664.5" cy="785.7" r="2.55" fill="#e44935" stroke="#a9463a" stroke-width="0.7"/>
<circle cx="664.5" cy="799.6" r="2.55" fill="#e44935" stroke="#a9463a" stroke-width="0.7"/>
<line x1="522.1" y1="787.3" x2="534.4" y2="787.3" stroke="#111" stroke-width="1.15"/>
<line x1="533.4" y1="796.2" x2="545.7" y2="796.2" stroke="#111" stroke-width="1.15"/>
<line x1="544.9" y1="787.8" x2="557.5" y2="787.8" stroke="#111" stroke-width="1.15"/>
<line x1="551" y1="806.2" x2="562.8" y2="806.2" stroke="#111" stroke-width="1.15"/>
<line x1="562.3" y1="816.7" x2="573.8" y2="816.7" stroke="#111" stroke-width="1.15"/>
<line x1="573.3" y1="800.4" x2="585.1" y2="800.4" stroke="#111" stroke-width="1.15"/>
<line x1="579.4" y1="814.1" x2="591.2" y2="814.1" stroke="#111" stroke-width="1.15"/>
<line x1="590.4" y1="820.6" x2="602.2" y2="820.6" stroke="#111" stroke-width="1.15"/>
<line x1="601.7" y1="800.9" x2="613.5" y2="800.9" stroke="#111" stroke-width="1.15"/>
<line x1="607.5" y1="819.9" x2="619.3" y2="819.9" stroke="#111" stroke-width="1.15"/>
<line x1="618.8" y1="822.5" x2="630.6" y2="822.5" stroke="#111" stroke-width="1.15"/>
<line x1="629.8" y1="789.9" x2="642.2" y2="789.9" stroke="#777" stroke-width="1.15"/>
<line x1="635.6" y1="820.6" x2="647.4" y2="820.6" stroke="#111" stroke-width="1.15"/>
<line x1="646.9" y1="827.2" x2="658.7" y2="827.2" stroke="#111" stroke-width="1.15"/>
<line x1="658.7" y1="783.9" x2="671" y2="783.9" stroke="#111" stroke-width="1.15"/>
<text x="607.5" y="788.0" font-size="16" text-anchor="middle" fill="#111" >**</text>
<text x="635.0" y="769.0" font-size="16" text-anchor="middle" fill="#111" >**</text>
<text x="664.7" y="769.0" font-size="16" text-anchor="middle" fill="#111" >**</text>
</g>
<text x="4.5" y="20.2" font-size="29.7" text-anchor="start" fill="#111" >A</text>
<text x="197.5" y="20.0" font-size="29.7" text-anchor="start" fill="#111" >B</text>
<text x="2.3" y="500.8" font-size="29.7" text-anchor="start" fill="#111" >C</text>
<text x="196.3" y="500.0" font-size="29.7" text-anchor="start" fill="#111" >D</text>
<text x="93.5" y="25.0" font-size="25.1" text-anchor="start" fill="#111" >WT</text>
<text x="75.0" y="154.7" font-size="25.1" text-anchor="start" fill="#111" >Hetero</text>
<text x="48.5" y="278.0" font-size="25.1" text-anchor="start" fill="#111" >Adipor1 KO</text>
<text x="94.0" y="512.8" font-size="25.1" text-anchor="start" fill="#111" >WT</text>
<text x="74.5" y="644.6" font-size="25.1" text-anchor="start" fill="#111" >Hetero</text>
<text x="49.6" y="780.4" font-size="25.1" text-anchor="start" fill="#111" >Adipor1 KO</text>
<line x1="123.2" y1="382.9" x2="138.6" y2="382.9" stroke="#1e1e1e" stroke-width="2.0"/>
<text x="172.3" y="389.1" font-size="15.8" text-anchor="end" fill="#111" >2.9</text>
<line x1="123.2" y1="400.54999999999995" x2="138.6" y2="400.54999999999995" stroke="#555" stroke-width="2.0"/>
<text x="172.3" y="406.7" font-size="15.8" text-anchor="end" fill="#111" >1.9</text>
<line x1="123.2" y1="418.2" x2="138.6" y2="418.2" stroke="#7a7a7a" stroke-width="2.0"/>
<text x="172.3" y="424.3" font-size="15.8" text-anchor="end" fill="#111" >0.4</text>
<line x1="123.2" y1="435.84999999999997" x2="138.6" y2="435.84999999999997" stroke="#a6a6a6" stroke-width="2.0"/>
<text x="172.3" y="441.9" font-size="15.8" text-anchor="end" fill="#111" >-0.6</text>
<line x1="123.2" y1="453.5" x2="138.6" y2="453.5" stroke="#d4d4d4" stroke-width="2.0"/>
<text x="172.3" y="459.5" font-size="15.8" text-anchor="end" fill="#111" >-2.1</text>
<text x="178.3" y="459.5" font-size="15.8" text-anchor="start" fill="#111" >(log cd sec/ m<tspan font-size="10" dy="-5.8">2</tspan><tspan dy="5.8">)</tspan></text>
<line x1="130.5" y1="850.6" x2="145.4" y2="850.6" stroke="#1e1e1e" stroke-width="2.0"/>
<text x="178.8" y="856.0" font-size="15.8" text-anchor="end" fill="#111" >2.9</text>
<line x1="130.5" y1="868.25" x2="145.4" y2="868.25" stroke="#555" stroke-width="2.0"/>
<text x="178.8" y="873.6" font-size="15.8" text-anchor="end" fill="#111" >1.9</text>
<line x1="130.5" y1="885.9" x2="145.4" y2="885.9" stroke="#7a7a7a" stroke-width="2.0"/>
<text x="178.8" y="891.2" font-size="15.8" text-anchor="end" fill="#111" >0.4</text>
<line x1="130.5" y1="903.5500000000001" x2="145.4" y2="903.5500000000001" stroke="#a6a6a6" stroke-width="2.0"/>
<text x="178.8" y="908.8" font-size="15.8" text-anchor="end" fill="#111" >-0.6</text>
<line x1="130.5" y1="921.2" x2="145.4" y2="921.2" stroke="#d4d4d4" stroke-width="2.0"/>
<text x="178.8" y="926.4" font-size="15.8" text-anchor="end" fill="#111" >-2.1</text>
<text x="185.3" y="926.4" font-size="15.8" text-anchor="start" fill="#111" >(log cd sec/ m<tspan font-size="10" dy="-5.8">2</tspan><tspan dy="5.8">)</tspan></text>
<path d="M0 422.7 H58.8 V404.1" fill="none" stroke="#222" stroke-width="1.6"/>
<text x="65.0" y="419.0" font-size="15.8" text-anchor="start" fill="#111" >0.5mV</text>
<text x="9.5" y="445.6" font-size="15.8" text-anchor="start" fill="#111" >30ms</text>
<path d="M9.9 892.1 H69.0 V873.3" fill="none" stroke="#222" stroke-width="1.6"/>
<text x="72.2" y="887.1" font-size="15.8" text-anchor="start" fill="#111" >0.5mV</text>
<text x="17.0" y="913.4" font-size="15.8" text-anchor="start" fill="#111" >30ms</text>
<path d="M29.4 97.7 C33.7 97.8 46.7 98.0 55.0 98.0 C63.3 98.0 74.2 98.6 79.1 98.0 C84.0 97.4 82.4 96.1 84.2 94.3 C86.0 92.5 88.4 88.7 90.0 87.0 C91.6 85.3 92.6 84.7 93.7 84.1 C94.8 83.5 95.5 84.7 96.6 83.4 C97.7 82.1 99.2 78.2 100.3 76.1 C101.4 74.0 102.1 71.8 103.2 71.0 C104.3 70.2 105.6 70.9 106.7 71.6 C107.8 72.3 109.0 74.4 110.0 75.3 C111.0 76.2 111.5 77.6 112.5 77.2 C113.5 76.8 114.6 74.0 116.0 73.0 C117.4 72.0 116.5 71.2 120.8 70.9 C125.1 70.6 130.7 70.8 141.6 70.9 C152.5 71.0 178.6 71.2 186.0 71.3" fill="none" stroke="#d0d0d0" stroke-width="1.5" stroke-linejoin="round" stroke-linecap="round"/>
<path d="M29.4 92.6 C30.4 92.5 32.9 91.5 35.2 91.9 C37.5 92.3 40.5 93.8 43.2 94.8 C45.9 95.8 49.0 96.7 51.3 97.7 C53.6 98.7 54.9 99.7 57.1 100.7 C59.3 101.7 62.7 103.3 64.5 103.8 C66.3 104.3 67.0 105.0 68.1 103.8 C69.2 102.6 70.0 100.2 71.1 96.5 C72.2 92.8 73.7 84.7 74.7 81.9 C75.7 79.1 75.9 79.3 76.9 79.7 C77.9 80.1 79.5 83.8 80.5 84.1 C81.5 84.3 82.0 84.2 82.7 81.2 C83.4 78.2 84.3 69.3 84.9 65.8 C85.5 62.3 85.8 61.2 86.5 60.0 C87.2 58.8 87.9 58.0 88.8 58.5 C89.7 59.0 90.6 61.1 92.0 63.0 C93.4 64.9 95.2 69.8 97.2 70.1 C99.2 70.4 101.7 66.0 103.8 65.0 C105.9 64.0 104.4 63.5 110.0 64.3 C115.6 65.0 129.8 68.3 137.4 69.5 C145.0 70.7 148.8 70.4 155.5 71.6 C162.2 72.8 172.6 75.7 177.7 76.5 C182.8 77.3 184.6 76.5 186.0 76.5" fill="none" stroke="#a8a8a8" stroke-width="1.5" stroke-linejoin="round" stroke-linecap="round"/>
<path d="M29.4 92.6 C30.4 92.8 33.5 93.2 35.2 94.1 C36.9 94.9 38.1 95.6 39.6 97.7 C41.1 99.8 42.4 104.4 44.0 106.5 C45.6 108.6 47.0 109.8 49.1 110.1 C51.2 110.3 54.5 108.8 56.4 108.0 C58.3 107.2 59.5 107.7 60.8 105.0 C62.1 102.3 63.3 96.5 64.4 91.9 C65.5 87.3 66.6 80.2 67.3 77.3 C68.0 74.4 67.8 74.4 68.5 74.6 C69.2 74.8 70.8 77.2 71.8 78.2 C72.8 79.2 73.6 81.6 74.6 80.4 C75.6 79.2 76.8 74.4 77.6 71.0 C78.3 67.6 78.6 62.8 79.1 60.0 C79.6 57.2 80.0 55.2 80.5 54.0 C81.0 52.8 81.1 51.9 81.9 52.6 C82.7 53.4 83.9 56.1 85.5 58.5 C87.1 60.9 89.3 66.8 91.4 67.2 C93.5 67.6 94.9 61.9 98.0 60.7 C101.1 59.5 105.0 59.5 110.0 59.9 C115.0 60.3 121.5 62.6 127.7 63.3 C133.9 64.0 141.4 63.6 147.2 64.0 C153.0 64.4 155.9 64.7 162.4 65.8 C168.9 66.9 182.1 69.7 186.0 70.5" fill="none" stroke="#7e7e7e" stroke-width="1.5" stroke-linejoin="round" stroke-linecap="round"/>
<path d="M29.4 92.6 C29.7 92.2 30.7 90.2 31.2 90.4 C31.7 90.7 31.9 93.3 32.3 94.1 C32.7 94.9 33.2 94.6 33.8 95.2 C34.4 95.8 35.0 94.6 36.0 97.7 C37.0 100.8 38.8 110.0 39.6 113.8 C40.5 117.6 40.4 119.8 41.1 120.4 C41.8 121.0 41.5 119.5 44.0 117.4 C46.5 115.3 53.9 110.2 56.4 108.0 C58.9 105.8 58.2 108.2 59.3 104.3 C60.4 100.4 62.0 90.1 63.0 84.6 C64.0 79.0 64.4 72.9 65.2 71.0 C66.0 69.1 67.0 71.6 68.1 73.1 C69.2 74.5 70.8 79.5 71.8 79.7 C72.8 80.0 73.5 77.9 74.0 74.6 C74.5 71.3 74.6 64.1 75.1 60.0 C75.6 55.9 76.4 52.1 77.0 50.0 C77.6 47.9 77.8 46.6 78.6 47.2 C79.4 47.8 80.5 50.9 81.9 53.4 C83.3 55.9 86.0 60.5 87.0 62.1 C88.0 63.7 87.2 63.4 88.1 63.2 C88.9 63.0 90.7 61.7 92.1 60.7 C93.5 59.7 93.5 57.7 96.5 57.4 C99.5 57.1 106.7 58.5 110.0 58.8 C113.3 59.1 111.1 59.4 116.6 59.4 C122.1 59.4 137.0 58.5 143.0 58.7 C149.0 58.9 150.6 60.6 152.7 60.8 C154.8 61.0 149.9 59.4 155.5 59.8 C161.1 60.2 180.9 62.7 186.0 63.3" fill="none" stroke="#555555" stroke-width="1.55" stroke-linejoin="round" stroke-linecap="round"/>
<path d="M29.4 92.6 C29.7 92.2 30.7 90.2 31.2 90.4 C31.7 90.7 31.9 93.3 32.3 94.1 C32.7 94.9 33.4 95.1 33.8 95.2 C34.2 95.3 34.5 94.1 34.9 94.8 C35.3 95.5 35.7 96.0 36.0 99.2 C36.3 102.4 36.4 109.3 36.7 113.8 C37.0 118.3 37.5 124.0 37.8 126.2 C38.1 128.4 38.0 127.8 38.5 126.9 C39.0 126.1 39.7 122.8 41.1 121.1 C42.5 119.4 44.5 118.7 46.9 116.7 C49.3 114.8 53.9 111.4 55.7 109.4 C57.5 107.5 57.2 107.8 57.8 105.0 C58.4 102.2 58.6 97.9 59.4 92.8 C60.1 87.7 61.4 78.5 62.3 74.6 C63.1 70.6 63.8 69.7 64.5 69.1 C65.2 68.5 66.0 70.0 66.7 71.0 C67.4 72.0 68.3 75.0 68.9 75.0 C69.5 75.0 69.9 73.5 70.3 71.0 C70.7 68.5 70.9 65.2 71.4 60.0 C71.9 54.8 72.8 44.1 73.5 40.0 C74.2 35.9 75.0 35.2 75.7 35.1 C76.5 35.0 77.2 37.7 78.0 39.5 C78.8 41.3 79.5 44.0 80.4 46.1 C81.3 48.2 82.2 51.8 83.4 52.3 C84.6 52.8 86.1 50.3 87.7 49.0 C89.3 47.7 91.1 45.3 92.8 44.6 C94.5 43.9 95.1 44.2 98.0 44.6 C100.9 45.0 106.7 46.2 110.0 46.8 C113.3 47.4 115.0 48.4 118.0 48.3 C121.0 48.2 122.8 46.7 127.7 46.0 C132.6 45.3 140.3 44.0 147.2 44.3 C154.1 44.6 162.8 47.1 169.3 48.0 C175.8 48.9 183.2 49.2 186.0 49.4" fill="none" stroke="#1c1c1c" stroke-width="1.7" stroke-linejoin="round" stroke-linecap="round"/>
<path d="M29.6 211.8 C30.5 211.8 30.9 211.4 35.2 211.8 C39.6 212.2 47.7 213.7 55.7 214.3 C63.7 214.9 78.1 215.6 83.2 215.3 C88.3 215.0 85.1 214.9 86.3 212.3 C87.5 209.8 89.3 202.6 90.4 200.0 C91.5 197.4 92.1 197.2 93.0 196.5 C93.9 195.8 94.9 195.7 95.9 195.8 C96.9 195.9 97.8 197.7 98.8 197.2 C99.8 196.7 100.7 194.6 101.7 192.8 C102.7 191.0 104.1 187.8 105.0 186.3 C105.9 184.9 105.2 184.5 106.9 184.1 C108.6 183.7 112.0 184.6 115.3 183.8 C118.5 183.0 120.6 179.9 126.4 179.3 C132.2 178.7 140.1 179.3 150.0 180.0 C159.9 180.7 180.0 182.8 186.0 183.4" fill="none" stroke="#d0d0d0" stroke-width="1.5" stroke-linejoin="round" stroke-linecap="round"/>
<path d="M29.6 211.8 C30.7 211.7 33.6 210.4 36.2 211.2 C38.8 211.9 41.3 214.4 45.4 216.3 C49.5 218.2 56.7 221.1 60.8 222.5 C64.9 223.9 68.0 224.8 70.0 224.5 C72.0 224.2 72.0 224.5 73.0 220.4 C74.0 216.3 75.4 204.0 76.1 200.0 C76.8 196.0 76.3 197.8 76.9 196.5 C77.5 195.2 78.6 192.5 79.8 192.1 C81.0 191.7 82.9 195.4 84.2 194.3 C85.5 193.2 86.5 188.4 87.8 185.5 C89.1 182.6 90.4 178.4 92.2 176.8 C94.0 175.2 96.7 176.2 98.8 176.1 C100.9 176.0 100.6 175.9 105.0 176.4 C109.4 176.9 117.0 177.9 125.0 179.3 C132.9 180.7 142.5 183.0 152.7 184.8 C162.9 186.6 180.4 189.1 186.0 190.0" fill="none" stroke="#a8a8a8" stroke-width="1.5" stroke-linejoin="round" stroke-linecap="round"/>
<path d="M29.6 211.8 C30.2 211.9 31.9 211.9 33.0 212.5 C34.1 213.1 34.6 213.5 36.2 215.3 C37.8 217.1 40.4 221.1 42.4 223.5 C44.4 225.9 46.3 228.9 48.5 229.6 C50.7 230.3 53.2 228.2 55.7 227.6 C58.2 227.0 61.9 227.3 63.8 226.1 C65.7 224.9 66.1 224.8 66.9 220.4 C67.8 216.1 68.5 205.2 68.9 200.0 C69.4 194.8 69.0 191.7 69.6 189.2 C70.2 186.7 71.2 184.9 72.5 185.2 C73.8 185.4 76.0 191.2 77.3 190.7 C78.6 190.1 79.3 184.7 80.5 181.9 C81.7 179.1 81.2 175.0 84.2 173.9 C87.2 172.8 95.3 175.0 98.8 175.3 C102.3 175.6 100.2 175.4 105.0 175.8 C109.8 176.2 120.2 176.9 127.7 177.9 C135.2 178.9 145.8 181.1 150.0 182.0 C154.2 182.9 151.8 183.4 152.7 183.4 C153.6 183.4 149.9 181.5 155.5 182.0 C161.1 182.5 180.9 185.5 186.0 186.2" fill="none" stroke="#7e7e7e" stroke-width="1.5" stroke-linejoin="round" stroke-linecap="round"/>
<path d="M29.6 211.8 C29.9 211.5 30.5 209.6 31.1 210.2 C31.7 210.8 32.4 214.1 33.2 215.3 C34.0 216.5 34.5 213.8 35.7 217.4 C36.9 221.0 38.7 234.2 40.3 236.8 C41.9 239.4 42.8 234.2 45.4 232.7 C48.0 231.2 53.1 228.8 55.7 227.6 C58.3 226.4 59.6 227.0 60.8 225.5 C62.0 224.0 62.2 222.7 62.8 218.4 C63.4 214.2 63.9 204.3 64.3 200.0 C64.7 195.7 64.6 195.5 65.2 192.8 C65.8 190.2 67.2 185.3 68.1 184.1 C68.9 182.9 69.3 184.5 70.3 185.5 C71.3 186.5 73.2 190.5 74.3 189.9 C75.4 189.3 75.9 184.8 76.9 181.9 C77.9 179.0 79.3 174.1 80.5 172.4 C81.7 170.7 81.2 171.3 84.2 171.7 C87.2 172.1 95.3 173.9 98.8 174.6 C102.3 175.3 101.3 175.4 105.0 175.7 C108.7 176.0 112.8 176.2 120.8 176.5 C128.8 176.8 143.7 176.9 152.7 177.6 C161.7 178.3 169.3 180.2 174.9 180.7 C180.5 181.2 184.2 180.7 186.0 180.7" fill="none" stroke="#555555" stroke-width="1.55" stroke-linejoin="round" stroke-linecap="round"/>
<path d="M29.6 211.8 C29.9 211.5 30.5 209.6 31.1 210.2 C31.7 210.8 32.6 214.5 33.2 215.3 C33.8 216.1 34.1 214.0 34.5 214.8 C34.9 215.7 35.3 217.2 35.7 220.4 C36.1 223.6 36.4 230.1 36.8 233.7 C37.1 237.3 37.2 241.2 37.8 241.9 C38.4 242.6 39.0 239.2 40.3 237.8 C41.6 236.4 43.0 235.5 45.4 233.7 C47.8 231.9 52.7 228.6 54.6 227.1 C56.5 225.6 56.1 226.6 56.7 224.5 C57.3 222.4 57.8 217.6 58.2 214.3 C58.6 211.1 58.8 208.6 59.2 205.0 C59.6 201.4 60.0 195.9 60.8 192.8 C61.6 189.7 62.9 187.0 63.8 186.3 C64.7 185.6 65.6 187.8 66.3 188.5 C67.0 189.2 67.2 191.0 67.8 190.3 C68.4 189.6 69.2 187.6 70.0 184.1 C70.8 180.6 71.5 172.9 72.5 169.5 C73.5 166.1 74.7 164.0 75.8 163.6 C76.9 163.2 77.9 166.0 79.1 167.3 C80.2 168.6 81.4 170.7 82.7 171.3 C84.0 171.9 85.3 171.3 87.1 170.9 C88.9 170.5 90.7 169.0 93.7 168.8 C96.7 168.6 100.7 169.2 105.0 169.5 C109.3 169.8 113.3 170.5 119.4 170.5 C125.5 170.5 134.2 168.9 141.6 169.3 C149.0 169.7 158.7 172.2 163.8 172.8 C168.9 173.4 168.4 172.4 172.1 172.8 C175.8 173.2 183.7 175.1 186.0 175.5" fill="none" stroke="#1c1c1c" stroke-width="1.7" stroke-linejoin="round" stroke-linecap="round"/>
<path d="M33.1 358.0 C37.6 358.2 50.6 358.7 60.0 359.0 C69.4 359.3 82.9 360.4 89.5 359.7 C96.1 359.0 96.9 356.2 99.5 354.7 C102.1 353.2 101.5 352.4 105.0 350.5 C108.5 348.6 115.1 344.9 120.8 343.1 C126.5 341.3 127.8 340.4 139.2 339.8 C150.6 339.2 180.8 339.8 189.1 339.8" fill="none" stroke="#d2d2d2" stroke-width="1.5" stroke-linejoin="round" stroke-linecap="round"/>
<path d="M33.1 358.0 C37.6 358.3 50.6 360.0 60.0 360.0 C69.4 360.0 83.8 359.9 89.5 357.8 C95.2 355.7 92.8 350.7 94.5 347.3 C96.2 343.9 97.8 339.2 99.5 337.3 C101.2 335.4 102.4 336.9 104.4 336.1 C106.4 335.3 109.3 334.3 111.6 332.6 C113.9 330.9 113.7 326.9 118.1 326.0 C122.5 325.1 126.0 326.2 137.8 327.0 C149.6 327.8 180.6 330.0 189.1 330.6" fill="none" stroke="#aaaaaa" stroke-width="1.5" stroke-linejoin="round" stroke-linecap="round"/>
<path d="M33.1 358.0 C34.4 358.7 36.6 361.4 41.1 362.0 C45.6 362.6 53.0 362.1 60.0 361.5 C67.0 360.9 78.8 361.4 83.3 358.4 C87.8 355.4 86.0 347.8 87.0 343.5 C88.0 339.2 88.6 334.8 89.5 332.4 C90.4 330.0 91.1 329.3 92.6 329.3 C94.0 329.3 96.4 332.9 98.2 332.4 C100.0 331.9 101.8 327.8 103.2 326.2 C104.7 324.6 105.8 323.7 106.9 323.1 C108.0 322.5 104.8 322.2 110.0 322.7 C115.2 323.2 124.6 324.9 137.8 326.0 C151.0 327.1 180.6 328.5 189.1 329.0" fill="none" stroke="#858585" stroke-width="1.5" stroke-linejoin="round" stroke-linecap="round"/>
<path d="M33.1 357.8 C34.4 358.6 36.6 362.0 41.1 362.5 C45.6 363.0 54.4 361.5 60.0 361.0 C65.6 360.5 71.5 361.6 74.6 359.7 C77.7 357.8 77.2 354.2 78.4 349.7 C79.6 345.1 80.6 336.1 81.5 332.4 C82.4 328.7 83.0 328.0 83.9 327.4 C84.8 326.8 86.1 328.2 87.0 328.6 C87.9 329.0 88.2 330.7 89.5 329.9 C90.8 329.1 93.0 325.1 94.5 323.7 C96.0 322.2 95.6 321.5 98.2 321.2 C100.8 320.9 103.4 321.1 110.0 321.8 C116.6 322.5 124.6 324.4 137.8 325.4 C151.0 326.3 180.6 327.1 189.1 327.5" fill="none" stroke="#666666" stroke-width="1.55" stroke-linejoin="round" stroke-linecap="round"/>
<path d="M33.1 357.8 C33.3 357.5 33.8 355.5 34.3 356.0 C34.8 356.5 35.5 360.5 36.2 360.9 C36.9 361.3 37.8 358.1 38.6 358.4 C39.4 358.7 38.2 362.4 41.1 362.8 C44.0 363.2 51.9 361.5 56.0 360.9 C60.1 360.3 63.7 360.4 66.0 359.0 C68.3 357.6 68.5 356.0 69.7 352.2 C70.9 348.4 72.4 340.1 73.4 336.1 C74.4 332.1 75.1 329.6 75.9 328.0 C76.7 326.4 77.3 326.6 78.4 326.8 C79.5 327.0 81.5 329.2 82.7 329.3 C83.9 329.4 84.7 328.6 85.8 327.4 C86.9 326.1 88.4 323.0 89.5 321.8 C90.6 320.6 90.9 320.2 92.6 320.0 C94.3 319.8 97.4 320.4 99.5 320.6 C101.6 320.8 98.6 320.6 105.0 321.4 C111.4 322.2 123.8 324.5 137.8 325.4 C151.8 326.3 180.6 326.5 189.1 326.7" fill="none" stroke="#474747" stroke-width="1.7" stroke-linejoin="round" stroke-linecap="round"/>
<path d="M30.2 586.1 C35.8 586.3 54.5 587.4 63.7 587.4 C72.9 587.4 80.9 587.4 85.6 586.1 C90.3 584.8 89.9 581.6 92.1 579.7 C94.2 577.8 96.7 575.2 98.5 574.5 C100.3 573.8 101.9 575.5 103.0 575.5 C104.1 575.5 102.9 576.7 105.0 574.6 C107.1 572.5 112.9 565.1 115.5 562.8 C118.1 560.5 118.6 560.8 120.8 560.8 C123.0 560.8 126.2 563.2 128.6 562.8 C131.0 562.4 125.7 559.5 135.2 558.2 C144.7 557.0 177.0 555.8 185.4 555.3" fill="none" stroke="#d0d0d0" stroke-width="1.5" stroke-linejoin="round" stroke-linecap="round"/>
<path d="M30.2 582.2 C31.5 582.1 35.3 581.3 37.9 581.6 C40.5 581.9 43.0 582.8 45.6 584.2 C48.2 585.6 50.4 588.4 53.4 590.0 C56.4 591.6 60.5 592.5 63.7 593.8 C66.9 595.1 70.7 598.3 72.7 597.7 C74.8 597.1 74.9 594.5 76.0 590.0 C77.1 585.5 78.0 573.9 79.2 570.6 C80.4 567.3 81.5 569.4 83.0 570.0 C84.5 570.6 86.5 575.2 88.2 574.5 C89.9 573.8 91.7 568.1 93.4 565.5 C95.1 562.9 97.0 560.3 98.5 559.0 C100.0 557.7 101.3 557.8 102.4 557.7 C103.5 557.6 103.5 557.8 105.0 558.2 C106.5 558.6 108.3 560.5 111.6 560.2 C114.9 559.9 112.4 556.4 124.7 556.2 C137.0 556.0 175.3 558.5 185.4 558.9" fill="none" stroke="#a8a8a8" stroke-width="1.5" stroke-linejoin="round" stroke-linecap="round"/>
<path d="M30.2 581.0 C31.5 581.1 35.5 578.8 37.9 581.6 C40.2 584.4 42.1 593.1 44.3 597.7 C46.4 602.3 49.1 607.1 50.8 609.3 C52.5 611.4 52.8 611.2 54.7 610.6 C56.6 610.0 60.2 607.1 62.4 605.4 C64.5 603.7 66.1 603.7 67.6 600.3 C69.1 596.9 70.2 589.8 71.4 584.8 C72.6 579.8 73.6 573.3 74.7 570.6 C75.8 567.9 76.7 568.7 77.9 568.7 C79.1 568.7 80.3 569.4 81.8 570.6 C83.3 571.8 85.3 574.9 86.9 575.8 C88.5 576.7 90.0 578.6 91.4 575.8 C92.8 573.0 93.9 561.9 95.3 559.0 C96.7 556.1 98.4 558.0 99.8 558.4 C101.2 558.8 101.1 562.0 103.7 561.6 C106.3 561.2 108.7 556.9 115.5 556.2 C122.3 555.5 132.8 556.8 144.4 557.6 C156.1 558.4 178.6 560.3 185.4 560.8" fill="none" stroke="#7e7e7e" stroke-width="1.5" stroke-linejoin="round" stroke-linecap="round"/>
<path d="M30.2 580.3 C30.4 580.0 31.0 578.2 31.5 578.5 C32.0 578.8 32.6 581.6 33.0 582.0 C33.4 582.4 33.2 579.2 34.0 581.0 C34.8 582.8 36.6 587.4 37.9 592.5 C39.2 597.6 40.3 609.3 41.8 611.9 C43.3 614.5 44.1 610.2 46.9 608.0 C49.7 605.8 55.7 600.3 58.5 598.4 C61.3 596.5 62.2 599.1 63.7 596.4 C65.2 593.7 66.5 588.0 67.6 582.2 C68.7 576.4 69.2 565.7 70.1 561.6 C70.9 557.5 71.6 557.5 72.7 557.7 C73.8 557.9 75.3 561.0 76.6 562.9 C77.9 564.8 79.2 566.8 80.5 569.3 C81.8 571.8 83.2 579.0 84.3 577.7 C85.4 576.4 86.2 567.3 86.9 561.6 C87.7 555.9 87.9 546.3 88.8 543.5 C89.7 540.7 90.8 543.8 92.1 544.8 C93.4 545.8 94.9 549.1 96.6 549.3 C98.3 549.5 100.4 547.1 102.4 546.1 C104.5 545.1 104.1 543.3 108.9 543.1 C113.7 542.9 122.5 544.5 131.3 545.1 C140.1 545.8 153.8 546.1 161.5 547.0 C169.2 547.9 173.3 549.6 177.3 550.3 C181.3 551.0 184.1 550.9 185.4 551.0" fill="none" stroke="#555555" stroke-width="1.55" stroke-linejoin="round" stroke-linecap="round"/>
<path d="M30.2 580.3 C30.4 580.0 31.0 578.2 31.5 578.5 C32.0 578.8 32.6 581.6 33.0 582.0 C33.4 582.4 33.5 580.2 34.0 580.9 C34.5 581.6 35.5 582.9 36.0 586.1 C36.5 589.3 36.7 594.4 37.0 600.0 C37.3 605.6 37.6 615.9 37.9 620.0 C38.1 624.1 37.4 625.6 38.5 624.5 C39.6 623.4 42.2 616.4 44.3 613.2 C46.3 610.0 48.4 608.0 50.8 605.4 C53.2 602.8 56.9 601.1 58.5 597.7 C60.1 594.3 59.9 591.0 60.5 585.0 C61.1 579.0 61.8 568.1 62.4 561.6 C63.0 555.1 63.8 548.9 64.3 546.1 C64.8 543.3 64.8 544.0 65.6 544.6 C66.4 545.2 67.8 547.4 68.9 550.0 C70.0 552.6 71.1 560.7 72.1 560.3 C73.1 559.9 73.8 553.6 74.7 547.4 C75.6 541.2 76.4 527.8 77.2 522.9 C78.0 518.0 78.8 517.7 79.8 517.7 C80.8 517.7 81.8 520.8 83.0 522.9 C84.2 525.0 85.0 530.4 86.9 530.6 C88.9 530.8 91.7 525.1 94.7 524.2 C97.7 523.3 101.1 524.8 105.0 525.4 C108.9 526.0 111.5 527.4 118.1 528.0 C124.7 528.6 136.1 528.5 144.4 529.3 C152.7 530.1 161.3 531.5 168.1 532.6 C174.9 533.7 182.5 535.5 185.4 536.1" fill="none" stroke="#1c1c1c" stroke-width="1.7" stroke-linejoin="round" stroke-linecap="round"/>
<path d="M30.0 717.0 C35.4 717.1 52.9 717.6 62.2 717.6 C71.5 717.6 81.0 718.5 85.8 717.0 C90.6 715.5 89.1 711.8 90.8 708.3 C92.5 704.8 94.2 698.0 95.7 695.9 C97.2 693.8 98.2 695.4 99.5 695.9 C100.8 696.4 101.8 700.6 103.8 699.0 C105.8 697.4 108.8 687.8 111.6 686.1 C114.4 684.4 117.5 688.9 120.8 688.8 C124.1 688.7 127.6 685.5 131.3 685.5 C135.0 685.5 138.7 688.5 143.1 688.8 C147.5 689.1 150.5 687.3 157.6 687.4 C164.7 687.5 180.8 689.1 185.4 689.4" fill="none" stroke="#d0d0d0" stroke-width="1.5" stroke-linejoin="round" stroke-linecap="round"/>
<path d="M30.0 714.5 C31.2 714.7 33.1 714.1 37.4 715.8 C41.7 717.5 51.5 722.4 56.0 724.5 C60.5 726.6 62.0 727.4 64.7 728.2 C67.4 729.0 70.3 730.9 72.2 729.4 C74.1 727.9 74.7 724.9 75.9 719.5 C77.1 714.1 78.4 702.2 79.6 697.2 C80.8 692.2 82.1 690.3 83.3 689.7 C84.5 689.1 85.8 694.4 87.0 693.4 C88.2 692.4 89.3 686.6 90.8 683.5 C92.2 680.4 93.6 675.6 95.7 674.8 C97.8 674.0 99.5 678.0 103.2 678.5 C106.9 679.0 112.3 676.9 118.1 677.6 C123.9 678.3 131.2 680.6 137.8 682.8 C144.4 685.0 149.7 688.6 157.6 690.7 C165.5 692.8 180.8 694.5 185.4 695.3" fill="none" stroke="#a8a8a8" stroke-width="1.5" stroke-linejoin="round" stroke-linecap="round"/>
<path d="M30.0 714.5 C31.2 715.3 34.6 716.6 37.4 719.5 C40.2 722.4 43.2 730.9 46.7 731.9 C50.2 732.9 55.3 726.7 58.5 725.7 C61.7 724.7 63.9 731.1 66.0 725.7 C68.1 720.3 69.5 701.3 70.9 693.4 C72.3 685.5 73.6 681.4 74.6 678.5 C75.6 675.6 76.3 675.5 77.1 676.1 C77.9 676.7 78.8 680.6 79.6 682.3 C80.4 683.9 81.1 686.6 82.1 686.0 C83.1 685.4 84.9 681.8 85.8 678.5 C86.7 675.2 87.0 668.5 87.7 666.1 C88.4 663.7 88.1 663.7 90.1 664.3 C92.1 664.9 97.0 669.1 99.5 669.9 C102.0 670.7 98.6 667.3 105.0 669.0 C111.4 670.7 124.4 676.6 137.8 680.2 C151.2 683.8 177.5 689.0 185.4 690.7" fill="none" stroke="#7e7e7e" stroke-width="1.5" stroke-linejoin="round" stroke-linecap="round"/>
<path d="M30.0 714.5 C30.2 713.9 30.8 710.0 31.2 710.8 C31.6 711.6 31.9 718.8 32.4 719.5 C32.9 720.2 33.6 714.5 34.3 715.1 C35.0 715.7 35.8 719.0 36.8 723.2 C37.8 727.5 36.9 740.0 40.5 740.6 C44.1 741.2 54.7 729.6 58.5 726.9 C62.3 724.2 62.1 729.0 63.5 724.5 C64.8 720.0 65.6 707.9 66.6 699.6 C67.6 691.3 68.8 679.5 69.7 674.8 C70.6 670.0 71.4 671.1 72.2 671.1 C73.0 671.1 73.6 672.7 74.6 674.8 C75.6 676.9 77.2 683.5 78.4 683.5 C79.7 683.5 80.9 677.9 82.1 674.8 C83.3 671.7 84.8 666.9 85.8 664.9 C86.8 662.9 87.2 662.9 88.3 663.0 C89.4 663.1 90.7 664.8 92.6 665.5 C94.5 666.2 97.4 667.0 99.5 667.4 C101.6 667.8 101.0 666.6 105.0 667.7 C109.0 668.9 110.0 671.8 123.4 674.3 C136.8 676.8 175.1 681.4 185.4 682.8" fill="none" stroke="#555555" stroke-width="1.55" stroke-linejoin="round" stroke-linecap="round"/>
<path d="M30.0 714.5 C30.2 713.9 30.8 710.0 31.2 710.8 C31.6 711.6 31.9 718.8 32.4 719.5 C32.9 720.2 33.7 715.1 34.3 715.1 C34.9 715.1 35.8 716.2 36.2 719.5 C36.7 722.8 36.7 730.1 37.0 735.0 C37.3 739.9 37.1 747.9 38.0 748.6 C38.9 749.3 39.8 742.5 42.4 739.3 C45.0 736.1 50.8 730.8 53.5 729.4 C56.2 728.0 57.2 731.5 58.5 730.7 C59.8 729.9 60.2 730.7 61.0 724.5 C61.8 718.3 62.7 700.6 63.5 693.4 C64.3 686.1 65.3 683.4 66.0 681.0 C66.7 678.6 67.1 678.7 67.8 678.8 C68.5 678.9 69.5 680.5 70.3 681.6 C71.1 682.7 72.1 685.1 72.8 685.4 C73.5 685.7 73.8 686.3 74.6 683.5 C75.4 680.7 76.8 671.7 77.7 668.6 C78.6 665.5 79.3 665.3 80.2 664.9 C81.1 664.5 82.2 665.7 83.3 666.1 C84.4 666.5 85.1 667.2 87.0 667.4 C88.9 667.6 91.5 666.9 94.5 667.4 C97.5 667.9 100.2 669.1 105.0 670.4 C109.8 671.7 117.5 673.9 123.4 675.0 C129.3 676.1 133.7 676.2 140.5 676.9 C147.3 677.5 156.6 678.1 164.1 678.9 C171.6 679.7 181.8 681.1 185.4 681.5" fill="none" stroke="#1c1c1c" stroke-width="1.7" stroke-linejoin="round" stroke-linecap="round"/>
<path d="M26.9 834.0 C32.8 834.3 53.8 835.3 62.2 835.6 C70.6 835.9 73.0 835.9 77.1 835.6 C81.2 835.3 84.1 834.9 87.0 834.0 C89.9 833.1 92.0 831.3 94.5 830.3 C97.0 829.3 100.2 828.4 101.9 827.8 C103.7 827.2 103.7 827.3 105.0 826.8 C106.3 826.2 108.2 825.2 110.0 824.5 C111.8 823.8 110.9 823.1 115.5 822.6 C120.1 822.1 126.5 821.2 137.8 821.3 C149.1 821.4 175.6 822.9 183.2 823.2" fill="none" stroke="#d0d0d0" stroke-width="1.5" stroke-linejoin="round" stroke-linecap="round"/>
<path d="M26.9 833.5 C32.8 833.8 54.7 835.3 62.2 835.3 C69.8 835.3 69.5 834.8 72.2 833.4 C74.9 832.0 76.3 828.9 78.4 827.2 C80.5 825.6 82.3 824.5 84.6 823.5 C86.9 822.5 89.9 821.9 92.0 821.0 C94.1 820.1 95.3 818.7 97.0 817.9 C98.7 817.1 99.7 816.5 101.9 816.0 C104.1 815.5 105.1 815.0 110.0 814.8 C114.9 814.6 119.1 814.1 131.3 815.0 C143.5 815.9 174.5 819.2 183.2 820.0" fill="none" stroke="#a8a8a8" stroke-width="1.5" stroke-linejoin="round" stroke-linecap="round"/>
<path d="M26.9 833.0 C28.3 833.4 29.8 835.1 35.5 835.5 C41.2 835.9 55.7 836.1 61.0 835.3 C66.3 834.5 65.3 832.7 67.2 830.9 C69.1 829.1 70.6 826.2 72.2 824.7 C73.8 823.2 75.4 822.7 77.1 822.2 C78.8 821.7 80.2 822.5 82.1 821.6 C84.0 820.7 86.5 818.0 88.3 816.6 C90.0 815.2 90.3 814.1 92.6 813.5 C94.9 812.9 99.0 813.0 101.9 812.9 C104.8 812.8 105.1 812.7 110.0 813.0 C114.9 813.3 119.1 813.9 131.3 814.7 C143.5 815.5 174.5 817.5 183.2 818.0" fill="none" stroke="#7e7e7e" stroke-width="1.5" stroke-linejoin="round" stroke-linecap="round"/>
<path d="M26.9 833.0 C28.3 833.4 30.2 835.2 35.5 835.5 C40.8 835.8 53.6 835.6 58.5 834.6 C63.4 833.6 62.6 831.7 64.7 829.7 C66.8 827.7 69.0 824.1 70.9 822.8 C72.8 821.4 74.2 821.9 75.9 821.6 C77.6 821.3 79.2 821.9 80.8 821.0 C82.4 820.1 84.3 817.4 85.8 816.0 C87.2 814.6 87.2 813.6 89.5 812.9 C91.8 812.2 96.1 812.1 99.5 811.7 C102.9 811.3 102.5 810.5 110.0 810.4 C117.5 810.3 132.2 810.9 144.4 811.4 C156.6 811.9 176.7 813.1 183.2 813.4" fill="none" stroke="#555555" stroke-width="1.55" stroke-linejoin="round" stroke-linecap="round"/>
<path d="M26.9 832.8 C27.2 832.6 27.8 831.3 28.5 831.5 C29.2 831.7 30.2 833.4 31.0 834.0 C31.8 834.6 32.2 834.7 33.0 835.0 C33.8 835.3 33.7 836.0 35.5 835.9 C37.3 835.8 40.0 835.0 43.6 834.6 C47.2 834.2 54.2 834.6 57.3 833.6 C60.4 832.6 60.6 830.1 62.2 828.4 C63.9 826.7 65.8 824.7 67.2 823.5 C68.7 822.3 69.2 821.6 70.9 821.0 C72.6 820.4 75.5 820.1 77.1 819.7 C78.6 819.3 79.2 819.4 80.2 818.5 C81.2 817.6 82.2 815.4 83.3 814.2 C84.4 813.0 85.1 811.8 87.0 811.3 C88.9 810.8 92.0 811.2 94.5 811.1 C97.0 811.0 99.3 810.7 101.9 810.4 C104.5 810.1 106.2 809.5 110.0 809.2 C113.8 808.9 116.8 808.8 124.7 808.8 C132.6 808.8 147.8 808.9 157.6 809.2 C167.3 809.5 178.9 810.5 183.2 810.8" fill="none" stroke="#1c1c1c" stroke-width="1.7" stroke-linejoin="round" stroke-linecap="round"/>
</svg></body></html>
